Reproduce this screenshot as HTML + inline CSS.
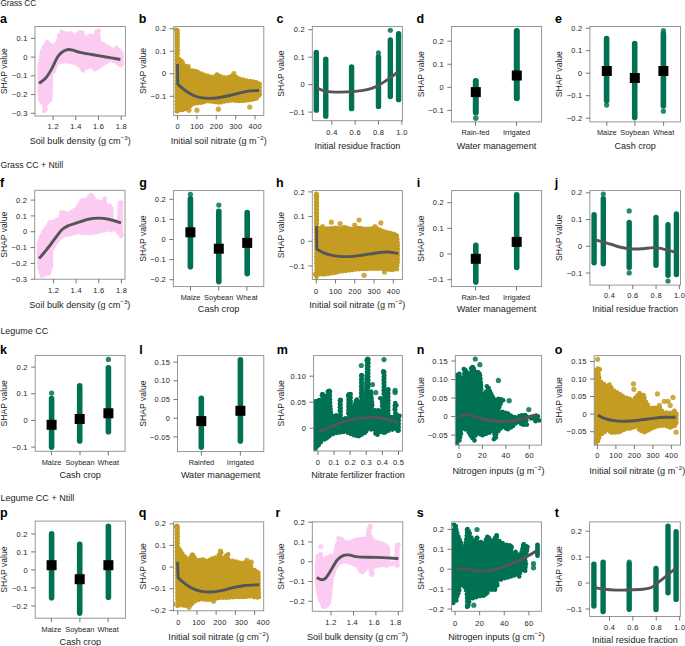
<!DOCTYPE html>
<html><head><meta charset="utf-8"><style>
html,body{margin:0;padding:0;background:#fff;}
svg{display:block;font-family:"Liberation Sans",sans-serif;}
</style></head><body>
<svg width="685" height="646" viewBox="0 0 685 646">
<defs><filter id="erode" x="-5%" y="-5%" width="110%" height="110%"><feMorphology operator="erode" radius="1.2"/></filter><clipPath id="cl0"><rect x="35.2" y="26.7" width="90" height="89.1"/></clipPath><clipPath id="cl1"><rect x="174" y="26.7" width="89.6" height="88.5"/></clipPath><clipPath id="cl2"><rect x="34.9" y="190.5" width="89.9" height="88.5"/></clipPath><clipPath id="cl3"><rect x="312.5" y="190.8" width="89.7" height="88.5"/></clipPath><clipPath id="cl4"><rect x="313.8" y="355.8" width="88.4" height="95"/></clipPath><clipPath id="cl5"><rect x="455.5" y="355.8" width="85.9" height="89.1"/></clipPath><clipPath id="cl6"><rect x="594.4" y="355.8" width="85.9" height="89.1"/></clipPath><clipPath id="cl7"><rect x="173.8" y="522.1" width="89.7" height="88.5"/></clipPath><clipPath id="cl8"><rect x="312.5" y="522.1" width="90.1" height="89"/></clipPath><clipPath id="cl9"><rect x="451.8" y="522.1" width="89.4" height="89"/></clipPath></defs>
<rect width="685" height="646" fill="#fff"/>
<text x="0.4" y="6.4" font-size="8.7" text-anchor="start" font-weight="normal" fill="#1c1c1c" textLength="35.6" lengthAdjust="spacingAndGlyphs">Grass CC</text>
<text x="0.4" y="167.8" font-size="8.7" text-anchor="start" font-weight="normal" fill="#1c1c1c" textLength="62.7" lengthAdjust="spacingAndGlyphs">Grass CC + Ntill</text>
<text x="0.4" y="333.9" font-size="8.7" text-anchor="start" font-weight="normal" fill="#1c1c1c" textLength="47.8" lengthAdjust="spacingAndGlyphs">Legume CC</text>
<text x="0.4" y="500.8" font-size="8.7" text-anchor="start" font-weight="normal" fill="#1c1c1c" textLength="74" lengthAdjust="spacingAndGlyphs">Legume CC + Ntill</text>
<g clip-path="url(#cl0)">
<path d="M37.17,66.74 L39.76,50.91 L43.36,43.71 L48.39,40.11 L52.71,43.71 L55.59,40.83 L57.75,33.64 L62.07,29.32 L66.39,31.48 L70.71,30.76 L75.02,32.92 L78.62,30.04 L83.66,30.76 L85.82,35.08 L89.42,33.64 L94.46,32.92 L97.34,28.6 L100.22,33.64 L101.66,40.83 L104.53,42.27 L107.41,44.43 L109.57,45.15 L112.45,47.31 L114.61,48.75 L117.49,45.87 L121.81,49.47 L123.97,53.79 L123.97,65.31 L121.81,67.46 L118.93,66.74 L114.61,63.87 L110.29,62.43 L103.09,66.74 L97.34,71.06 L94.46,71.78 L90.14,68.9 L84.38,71.06 L81.5,72.5 L78.62,68.18 L74.31,65.31 L68.55,63.87 L62.79,63.87 L58.47,65.31 L55.59,72.5 L53.43,75.38 L52.71,99.85 L50.55,102.73 L47.67,105.61 L46.24,112.81 L44.08,112.81 L41.92,105.61 L38.32,101.29 L37.17,92.66Z" fill="#fccbf2" filter="url(#erode)"/>
<g fill="#fccbf2"><circle cx="39.44" cy="67.12" r="2.3"/><circle cx="39.99" cy="63.76" r="2.3"/><circle cx="40.53" cy="60.41" r="2.3"/><circle cx="41.08" cy="57.05" r="2.3"/><circle cx="41.63" cy="53.69" r="2.3"/><circle cx="42.24" cy="51.08" r="2.3"/><circle cx="43.76" cy="48.04" r="2.3"/><circle cx="45.28" cy="45" r="2.3"/><circle cx="47.22" cy="43.78" r="2.3"/><circle cx="47.17" cy="42.08" r="2.3"/><circle cx="49.78" cy="44.26" r="2.3"/><circle cx="55.4" cy="44.28" r="2.3"/><circle cx="58.03" cy="40.71" r="2.3"/><circle cx="59.01" cy="37.45" r="2.3"/><circle cx="59.46" cy="35.19" r="2.3"/><circle cx="61.86" cy="32.78" r="2.3"/><circle cx="61.76" cy="31.73" r="2.3"/><circle cx="64.8" cy="33.26" r="2.3"/><circle cx="69.5" cy="33.29" r="2.3"/><circle cx="71.28" cy="33.62" r="2.3"/><circle cx="76.75" cy="34.48" r="2.3"/><circle cx="79.4" cy="32.36" r="2.3"/><circle cx="80.83" cy="32.68" r="2.3"/><circle cx="81.99" cy="32.57" r="2.3"/><circle cx="83.51" cy="35.61" r="2.3"/><circle cx="89.31" cy="36.16" r="2.3"/><circle cx="92.09" cy="35.58" r="2.3"/><circle cx="96.75" cy="33.63" r="2.3"/><circle cx="98.63" cy="30.8" r="2.3"/><circle cx="96.47" cy="31.73" r="2.3"/><circle cx="98.16" cy="34.68" r="2.3"/><circle cx="98.6" cy="37.31" r="2.3"/><circle cx="99.27" cy="40.64" r="2.3"/><circle cx="103.08" cy="44.12" r="2.3"/><circle cx="105.49" cy="45.87" r="2.3"/><circle cx="108.55" cy="47.26" r="2.3"/><circle cx="111.39" cy="49.37" r="2.3"/><circle cx="116.98" cy="49.63" r="2.3"/><circle cx="116.31" cy="47.89" r="2.3"/><circle cx="118.93" cy="50.06" r="2.3"/><circle cx="120.45" cy="51.9" r="2.3"/><circle cx="121.67" cy="53.93" r="2.3"/><circle cx="121.67" cy="57.33" r="2.3"/><circle cx="121.67" cy="60.73" r="2.3"/><circle cx="121.67" cy="64.13" r="2.3"/><circle cx="120.77" cy="65.25" r="2.3"/><circle cx="119.87" cy="64.61" r="2.3"/><circle cx="117.71" cy="63.17" r="2.3"/><circle cx="114.19" cy="61.3" r="2.3"/><circle cx="109.06" cy="60.48" r="2.3"/><circle cx="106.14" cy="62.23" r="2.3"/><circle cx="103.23" cy="63.98" r="2.3"/><circle cx="100.22" cy="66.02" r="2.3"/><circle cx="97.5" cy="68.06" r="2.3"/><circle cx="95.36" cy="69.19" r="2.3"/><circle cx="94.15" cy="68.82" r="2.3"/><circle cx="89.23" cy="66.79" r="2.3"/><circle cx="86.05" cy="67.98" r="2.3"/><circle cx="82.67" cy="69.35" r="2.3"/><circle cx="82.89" cy="70.44" r="2.3"/><circle cx="81.01" cy="67.61" r="2.3"/><circle cx="77.78" cy="64.86" r="2.3"/><circle cx="74.12" cy="62.89" r="2.3"/><circle cx="70.83" cy="62.06" r="2.3"/><circle cx="66.92" cy="61.57" r="2.3"/><circle cx="63.52" cy="61.57" r="2.3"/><circle cx="59.53" cy="62.53" r="2.3"/><circle cx="55.77" cy="65.86" r="2.3"/><circle cx="54.51" cy="69.02" r="2.3"/><circle cx="53.41" cy="71.57" r="2.3"/><circle cx="51.12" cy="75.68" r="2.3"/><circle cx="51.02" cy="79.08" r="2.3"/><circle cx="50.92" cy="82.48" r="2.3"/><circle cx="50.82" cy="85.87" r="2.3"/><circle cx="50.72" cy="89.27" r="2.3"/><circle cx="50.62" cy="92.67" r="2.3"/><circle cx="50.52" cy="96.07" r="2.3"/><circle cx="50.42" cy="99.47" r="2.3"/><circle cx="49.02" cy="100.94" r="2.3"/><circle cx="46.89" cy="103.15" r="2.3"/><circle cx="44.99" cy="107.33" r="2.3"/><circle cx="44.32" cy="110.66" r="2.3"/><circle cx="44.56" cy="110.51" r="2.3"/><circle cx="45.44" cy="109.36" r="2.3"/><circle cx="44.46" cy="106.1" r="2.3"/><circle cx="42.28" cy="102.45" r="2.3"/><circle cx="40.1" cy="99.84" r="2.3"/><circle cx="40.15" cy="97.64" r="2.3"/><circle cx="39.7" cy="94.27" r="2.3"/><circle cx="39.47" cy="91.19" r="2.3"/><circle cx="39.47" cy="87.79" r="2.3"/><circle cx="39.47" cy="84.39" r="2.3"/><circle cx="39.47" cy="80.99" r="2.3"/><circle cx="39.47" cy="77.59" r="2.3"/><circle cx="39.47" cy="74.19" r="2.3"/><circle cx="39.47" cy="70.79" r="2.3"/><circle cx="39.47" cy="67.39" r="2.3"/></g>
</g>
<path d="M39.04,83.3 C40.12,82.46 43.48,80.54 45.52,78.26 C47.56,75.98 49.23,73.22 51.27,69.62 C53.31,66.02 55.83,59.67 57.75,56.67 C59.67,53.67 60.99,52.83 62.79,51.63 C64.59,50.43 66.63,49.64 68.55,49.47 C70.47,49.3 72.39,50.14 74.31,50.62 C76.22,51.1 77.18,51.7 80.06,52.35 C82.94,53 87.26,53.74 91.58,54.51 C95.9,55.28 101.18,56.12 105.97,56.96 C110.77,57.8 117.97,59.12 120.37,59.55" fill="none" stroke="#545557" stroke-width="2.9" stroke-linecap="butt" stroke-linejoin="miter"/>
<rect x="35" y="26.5" width="90.4" height="89.5" fill="none" stroke="#8c8c8c" stroke-width="0.9"/>
<line x1="30.9" y1="38.4" x2="35" y2="38.4" stroke="#555" stroke-width="0.8"/>
<text x="27.6" y="41" font-size="7.5" text-anchor="end" font-weight="normal" fill="#1c1c1c" letter-spacing="0.25">0.1</text>
<line x1="30.9" y1="57.12" x2="35" y2="57.12" stroke="#555" stroke-width="0.8"/>
<text x="27.6" y="59.73" font-size="7.5" text-anchor="end" font-weight="normal" fill="#1c1c1c" letter-spacing="0.25">0</text>
<line x1="30.9" y1="75.85" x2="35" y2="75.85" stroke="#555" stroke-width="0.8"/>
<text x="27.6" y="78.45" font-size="7.5" text-anchor="end" font-weight="normal" fill="#1c1c1c" letter-spacing="0.25">−0.1</text>
<line x1="30.9" y1="94.58" x2="35" y2="94.58" stroke="#555" stroke-width="0.8"/>
<text x="27.6" y="97.18" font-size="7.5" text-anchor="end" font-weight="normal" fill="#1c1c1c" letter-spacing="0.25">−0.2</text>
<line x1="30.9" y1="113.3" x2="35" y2="113.3" stroke="#555" stroke-width="0.8"/>
<text x="27.6" y="115.9" font-size="7.5" text-anchor="end" font-weight="normal" fill="#1c1c1c" letter-spacing="0.25">−0.3</text>
<line x1="53.1" y1="116" x2="53.1" y2="120" stroke="#555" stroke-width="0.8"/>
<text x="53.25" y="129.3" font-size="7.5" text-anchor="middle" font-weight="normal" fill="#1c1c1c" letter-spacing="0.3">1.2</text>
<line x1="75.8" y1="116" x2="75.8" y2="120" stroke="#555" stroke-width="0.8"/>
<text x="75.95" y="129.3" font-size="7.5" text-anchor="middle" font-weight="normal" fill="#1c1c1c" letter-spacing="0.3">1.4</text>
<line x1="98.5" y1="116" x2="98.5" y2="120" stroke="#555" stroke-width="0.8"/>
<text x="98.65" y="129.3" font-size="7.5" text-anchor="middle" font-weight="normal" fill="#1c1c1c" letter-spacing="0.3">1.6</text>
<line x1="121.2" y1="116" x2="121.2" y2="120" stroke="#555" stroke-width="0.8"/>
<text x="121.35" y="129.3" font-size="7.5" text-anchor="middle" font-weight="normal" fill="#1c1c1c" letter-spacing="0.3">1.8</text>
<text x="80.2" y="144.4" font-size="9.1" text-anchor="middle" font-weight="normal" fill="#1c1c1c">Soil bulk density (g cm<tspan dy="-4.2" font-size="6.2">−3</tspan><tspan dy="4.2">)</tspan></text>
<text x="6.7" y="71.25" font-size="8.6" text-anchor="middle" fill="#1c1c1c" transform="rotate(-90 6.7 71.25)">SHAP value</text>
<text x="0" y="22.7" font-size="12.5" text-anchor="start" font-weight="bold" fill="#000">a</text>
<g clip-path="url(#cl1)">
<path d="M174.59,111.37 L174.5,31 L174.99,29 L177.2,27.81 L179.4,29 L180,31 L180,56.96 L180.64,57.39 L183.52,59.55 L185.67,63.15 L188.55,66.02 L192.15,68.18 L196.47,68.9 L200.79,71.06 L206.55,73.22 L212.31,74.66 L218.06,72.5 L222.38,74.66 L226.7,75.38 L232.46,73.22 L235.34,73.94 L241.09,76.82 L246.85,78.26 L252.61,78.98 L258.37,80.42 L261.97,84.02 L261.97,95.53 L258.37,99.85 L252.61,102.01 L246.85,102.73 L241.09,103.45 L232.46,102.73 L226.7,103.45 L219.5,104.89 L213.74,104.17 L207.99,103.45 L202.23,104.89 L196.47,105.61 L193.59,106.33 L189.27,109.93 L183.52,112.09 L177.76,112.81Z" fill="#c49c22" filter="url(#erode)"/>
<g fill="#c49c22"><circle cx="176.89" cy="111.37" r="2.3"/><circle cx="176.89" cy="107.97" r="2.3"/><circle cx="176.88" cy="104.57" r="2.3"/><circle cx="176.88" cy="101.17" r="2.3"/><circle cx="176.88" cy="97.77" r="2.3"/><circle cx="176.87" cy="94.37" r="2.3"/><circle cx="176.87" cy="90.97" r="2.3"/><circle cx="176.87" cy="87.57" r="2.3"/><circle cx="176.86" cy="84.17" r="2.3"/><circle cx="176.86" cy="80.77" r="2.3"/><circle cx="176.85" cy="77.37" r="2.3"/><circle cx="176.85" cy="73.97" r="2.3"/><circle cx="176.85" cy="70.57" r="2.3"/><circle cx="176.84" cy="67.17" r="2.3"/><circle cx="176.84" cy="63.77" r="2.3"/><circle cx="176.84" cy="60.37" r="2.3"/><circle cx="176.83" cy="56.97" r="2.3"/><circle cx="176.83" cy="53.57" r="2.3"/><circle cx="176.83" cy="50.17" r="2.3"/><circle cx="176.82" cy="46.77" r="2.3"/><circle cx="176.82" cy="43.37" r="2.3"/><circle cx="176.81" cy="39.97" r="2.3"/><circle cx="176.81" cy="36.57" r="2.3"/><circle cx="176.81" cy="33.17" r="2.3"/><circle cx="177.03" cy="30.35" r="2.3"/><circle cx="176.16" cy="29.86" r="2.3"/><circle cx="177.48" cy="30.59" r="2.3"/><circle cx="177.7" cy="33.28" r="2.3"/><circle cx="177.7" cy="36.68" r="2.3"/><circle cx="177.7" cy="40.08" r="2.3"/><circle cx="177.7" cy="43.48" r="2.3"/><circle cx="177.7" cy="46.88" r="2.3"/><circle cx="177.7" cy="50.28" r="2.3"/><circle cx="177.7" cy="53.68" r="2.3"/><circle cx="178.81" cy="58.92" r="2.3"/><circle cx="181.46" cy="60.88" r="2.3"/><circle cx="182.86" cy="62.92" r="2.3"/><circle cx="185.29" cy="66.02" r="2.3"/><circle cx="188.3" cy="68.56" r="2.3"/><circle cx="192.06" cy="70.5" r="2.3"/><circle cx="195.41" cy="71.06" r="2.3"/><circle cx="197.87" cy="72.17" r="2.3"/><circle cx="201.18" cy="73.67" r="2.3"/><circle cx="204.37" cy="74.86" r="2.3"/><circle cx="207.87" cy="75.92" r="2.3"/><circle cx="211.16" cy="76.75" r="2.3"/><circle cx="215.73" cy="75.83" r="2.3"/><circle cx="217.08" cy="74.58" r="2.3"/><circle cx="220.12" cy="76.1" r="2.3"/><circle cx="224" cy="77.26" r="2.3"/><circle cx="228.48" cy="77.17" r="2.3"/><circle cx="231.67" cy="75.97" r="2.3"/><circle cx="233.54" cy="75.86" r="2.3"/><circle cx="236.21" cy="76.95" r="2.3"/><circle cx="239.25" cy="78.47" r="2.3"/><circle cx="242.95" cy="79.66" r="2.3"/><circle cx="246.25" cy="80.48" r="2.3"/><circle cx="249.89" cy="80.96" r="2.3"/><circle cx="252.97" cy="81.44" r="2.3"/><circle cx="256.27" cy="82.27" r="2.3"/><circle cx="258.03" cy="83.33" r="2.3"/><circle cx="259.67" cy="84.14" r="2.3"/><circle cx="259.67" cy="87.54" r="2.3"/><circle cx="259.67" cy="90.94" r="2.3"/><circle cx="259.67" cy="94.34" r="2.3"/><circle cx="258.78" cy="95.76" r="2.3"/><circle cx="256.61" cy="98.37" r="2.3"/><circle cx="254.39" cy="98.89" r="2.3"/><circle cx="251.69" cy="99.81" r="2.3"/><circle cx="248.32" cy="100.23" r="2.3"/><circle cx="244.94" cy="100.65" r="2.3"/><circle cx="241.57" cy="101.07" r="2.3"/><circle cx="238.66" cy="100.94" r="2.3"/><circle cx="235.27" cy="100.66" r="2.3"/><circle cx="231.41" cy="100.54" r="2.3"/><circle cx="228.04" cy="100.97" r="2.3"/><circle cx="224.52" cy="101.54" r="2.3"/><circle cx="221.18" cy="102.21" r="2.3"/><circle cx="218.57" cy="102.46" r="2.3"/><circle cx="215.2" cy="102.03" r="2.3"/><circle cx="211.82" cy="101.61" r="2.3"/><circle cx="208.45" cy="101.19" r="2.3"/><circle cx="204.31" cy="102" r="2.3"/><circle cx="201.26" cy="102.69" r="2.3"/><circle cx="197.89" cy="103.12" r="2.3"/><circle cx="194.28" cy="103.79" r="2.3"/><circle cx="190.5" cy="105.92" r="2.3"/><circle cx="187.88" cy="108.09" r="2.3"/><circle cx="185.38" cy="108.93" r="2.3"/><circle cx="182.69" cy="109.87" r="2.3"/><circle cx="179.32" cy="110.29" r="2.3"/><circle cx="177.31" cy="110.08" r="2.3"/></g>
<circle cx="218.35" cy="109.21" r="2.6" fill="#c49c22" fill-opacity="0.85"/>
<circle cx="196.9" cy="110.22" r="2.6" fill="#c49c22" fill-opacity="0.85"/>
<circle cx="188.99" cy="110.22" r="2.6" fill="#c49c22" fill-opacity="0.85"/>
<circle cx="249.73" cy="107.05" r="2.6" fill="#c49c22" fill-opacity="0.85"/>
<circle cx="233.9" cy="73.65" r="2.6" fill="#c49c22" fill-opacity="0.85"/>
<circle cx="188.12" cy="66.46" r="2.6" fill="#c49c22" fill-opacity="0.85"/>
</g>
<path d="M177.47,63.87 L177.76,84.02 C178.24,84.5 179.2,85.7 180.64,86.9 C182.08,88.1 184.24,89.78 186.39,91.22 C188.55,92.66 191.19,94.45 193.59,95.53 C195.99,96.61 198.15,97.21 200.79,97.69 C203.43,98.17 206.55,98.41 209.43,98.41 C212.31,98.41 214.7,98.17 218.06,97.69 C221.42,97.21 225.74,96.37 229.58,95.53 C233.42,94.69 237.74,93.42 241.09,92.66 C244.45,91.89 246.73,91.29 249.73,90.93 C252.73,90.57 257.53,90.57 259.09,90.5" fill="none" stroke="#545557" stroke-width="2.9" stroke-linecap="butt" stroke-linejoin="miter"/>
<rect x="173.8" y="26.5" width="90" height="88.9" fill="none" stroke="#8c8c8c" stroke-width="0.9"/>
<line x1="169.7" y1="28.7" x2="173.8" y2="28.7" stroke="#555" stroke-width="0.8"/>
<text x="166.4" y="31.3" font-size="7.5" text-anchor="end" font-weight="normal" fill="#1c1c1c" letter-spacing="0.25">0.2</text>
<line x1="169.7" y1="51.23" x2="173.8" y2="51.23" stroke="#555" stroke-width="0.8"/>
<text x="166.4" y="53.83" font-size="7.5" text-anchor="end" font-weight="normal" fill="#1c1c1c" letter-spacing="0.25">0.1</text>
<line x1="169.7" y1="73.77" x2="173.8" y2="73.77" stroke="#555" stroke-width="0.8"/>
<text x="166.4" y="76.37" font-size="7.5" text-anchor="end" font-weight="normal" fill="#1c1c1c" letter-spacing="0.25">0</text>
<line x1="169.7" y1="96.3" x2="173.8" y2="96.3" stroke="#555" stroke-width="0.8"/>
<text x="166.4" y="98.9" font-size="7.5" text-anchor="end" font-weight="normal" fill="#1c1c1c" letter-spacing="0.25">−0.1</text>
<line x1="177.5" y1="115.4" x2="177.5" y2="119.4" stroke="#555" stroke-width="0.8"/>
<text x="177.65" y="129.3" font-size="7.5" text-anchor="middle" font-weight="normal" fill="#1c1c1c" letter-spacing="0.3">0</text>
<line x1="196.9" y1="115.4" x2="196.9" y2="119.4" stroke="#555" stroke-width="0.8"/>
<text x="197.05" y="129.3" font-size="7.5" text-anchor="middle" font-weight="normal" fill="#1c1c1c" letter-spacing="0.3">100</text>
<line x1="216.3" y1="115.4" x2="216.3" y2="119.4" stroke="#555" stroke-width="0.8"/>
<text x="216.45" y="129.3" font-size="7.5" text-anchor="middle" font-weight="normal" fill="#1c1c1c" letter-spacing="0.3">200</text>
<line x1="235.7" y1="115.4" x2="235.7" y2="119.4" stroke="#555" stroke-width="0.8"/>
<text x="235.85" y="129.3" font-size="7.5" text-anchor="middle" font-weight="normal" fill="#1c1c1c" letter-spacing="0.3">300</text>
<line x1="255.1" y1="115.4" x2="255.1" y2="119.4" stroke="#555" stroke-width="0.8"/>
<text x="255.25" y="129.3" font-size="7.5" text-anchor="middle" font-weight="normal" fill="#1c1c1c" letter-spacing="0.3">400</text>
<text x="218.8" y="144.4" font-size="9.1" text-anchor="middle" font-weight="normal" fill="#1c1c1c">Initial soil nitrate (g m<tspan dy="-4.2" font-size="6.2">−2</tspan><tspan dy="4.2">)</tspan></text>
<text x="145.8" y="70.95" font-size="8.6" text-anchor="middle" fill="#1c1c1c" transform="rotate(-90 145.8 70.95)">SHAP value</text>
<text x="138.8" y="22.7" font-size="12.5" text-anchor="start" font-weight="bold" fill="#000">b</text>
<line x1="316.31" y1="52.47" x2="316.31" y2="110.14" stroke="#017153" stroke-width="5.4" stroke-linecap="round"/>
<line x1="325.77" y1="59.23" x2="325.77" y2="116.14" stroke="#017153" stroke-width="5.4" stroke-linecap="round"/>
<line x1="351.59" y1="67.04" x2="351.59" y2="108.64" stroke="#017153" stroke-width="5.4" stroke-linecap="round"/>
<line x1="378.47" y1="56.98" x2="378.47" y2="106.38" stroke="#017153" stroke-width="5.4" stroke-linecap="round"/>
<line x1="390.33" y1="40.01" x2="390.33" y2="96.62" stroke="#017153" stroke-width="5.4" stroke-linecap="round"/>
<line x1="398.59" y1="33.71" x2="398.59" y2="99.63" stroke="#017153" stroke-width="5.4" stroke-linecap="round"/>
<circle cx="390.33" cy="30.26" r="2.6" fill="#017153" fill-opacity="0.85"/>
<circle cx="378.47" cy="52.78" r="2.6" fill="#017153" fill-opacity="0.85"/>
<path d="M316.76,87.76 C318.13,88.31 321.14,90.34 325.02,91.07 C328.89,91.79 335.03,92.07 340.03,92.12 C345.04,92.17 350.54,91.79 355.05,91.37 C359.55,90.94 363.55,90.37 367.06,89.56 C370.56,88.76 373.06,87.94 376.07,86.56 C379.07,85.19 382.32,83.06 385.08,81.31 C387.83,79.55 390.38,77.68 392.58,76.05 C394.78,74.42 397.34,72.3 398.29,71.55" fill="none" stroke="#545557" stroke-width="2.9" stroke-linecap="butt" stroke-linejoin="miter"/>
<rect x="312.3" y="26.5" width="90.1" height="94.2" fill="none" stroke="#8c8c8c" stroke-width="0.9"/>
<line x1="308.2" y1="29.75" x2="312.3" y2="29.75" stroke="#555" stroke-width="0.8"/>
<text x="304.9" y="32.35" font-size="7.5" text-anchor="end" font-weight="normal" fill="#1c1c1c" letter-spacing="0.25">0.2</text>
<line x1="308.2" y1="57.2" x2="312.3" y2="57.2" stroke="#555" stroke-width="0.8"/>
<text x="304.9" y="59.8" font-size="7.5" text-anchor="end" font-weight="normal" fill="#1c1c1c" letter-spacing="0.25">0.1</text>
<line x1="308.2" y1="84.65" x2="312.3" y2="84.65" stroke="#555" stroke-width="0.8"/>
<text x="304.9" y="87.25" font-size="7.5" text-anchor="end" font-weight="normal" fill="#1c1c1c" letter-spacing="0.25">0</text>
<line x1="308.2" y1="112.1" x2="312.3" y2="112.1" stroke="#555" stroke-width="0.8"/>
<text x="304.9" y="114.7" font-size="7.5" text-anchor="end" font-weight="normal" fill="#1c1c1c" letter-spacing="0.25">−0.1</text>
<line x1="331.8" y1="120.7" x2="331.8" y2="124.7" stroke="#555" stroke-width="0.8"/>
<text x="331.95" y="135" font-size="7.5" text-anchor="middle" font-weight="normal" fill="#1c1c1c" letter-spacing="0.3">0.4</text>
<line x1="355.13" y1="120.7" x2="355.13" y2="124.7" stroke="#555" stroke-width="0.8"/>
<text x="355.28" y="135" font-size="7.5" text-anchor="middle" font-weight="normal" fill="#1c1c1c" letter-spacing="0.3">0.6</text>
<line x1="378.47" y1="120.7" x2="378.47" y2="124.7" stroke="#555" stroke-width="0.8"/>
<text x="378.62" y="135" font-size="7.5" text-anchor="middle" font-weight="normal" fill="#1c1c1c" letter-spacing="0.3">0.8</text>
<line x1="401.8" y1="120.7" x2="401.8" y2="124.7" stroke="#555" stroke-width="0.8"/>
<text x="401.95" y="135" font-size="7.5" text-anchor="middle" font-weight="normal" fill="#1c1c1c" letter-spacing="0.3">1.0</text>
<text x="357.35" y="148.8" font-size="9.1" text-anchor="middle" font-weight="normal" fill="#1c1c1c">Initial residue fraction</text>
<text x="283.8" y="73.6" font-size="8.6" text-anchor="middle" fill="#1c1c1c" transform="rotate(-90 283.8 73.6)">SHAP value</text>
<text x="276.4" y="22.7" font-size="12.5" text-anchor="start" font-weight="bold" fill="#000">c</text>
<line x1="475.8" y1="80.9" x2="475.8" y2="112.5" stroke="#017153" stroke-width="6" stroke-linecap="round"/>
<circle cx="475.8" cy="118.1" r="2.8" fill="#017153" fill-opacity="0.85"/>
<line x1="516.8" y1="31.1" x2="516.8" y2="98.2" stroke="#017153" stroke-width="6" stroke-linecap="round"/>
<rect x="470.8" y="87.1" width="10" height="10" fill="#000"/>
<rect x="511.8" y="70.5" width="10" height="10" fill="#000"/>
<rect x="451.4" y="26.5" width="90.2" height="95.4" fill="none" stroke="#8c8c8c" stroke-width="0.9"/>
<line x1="447.3" y1="41.2" x2="451.4" y2="41.2" stroke="#555" stroke-width="0.8"/>
<text x="444" y="43.8" font-size="7.5" text-anchor="end" font-weight="normal" fill="#1c1c1c" letter-spacing="0.25">0.2</text>
<line x1="447.3" y1="64.27" x2="451.4" y2="64.27" stroke="#555" stroke-width="0.8"/>
<text x="444" y="66.87" font-size="7.5" text-anchor="end" font-weight="normal" fill="#1c1c1c" letter-spacing="0.25">0.1</text>
<line x1="447.3" y1="87.33" x2="451.4" y2="87.33" stroke="#555" stroke-width="0.8"/>
<text x="444" y="89.93" font-size="7.5" text-anchor="end" font-weight="normal" fill="#1c1c1c" letter-spacing="0.25">0</text>
<line x1="447.3" y1="110.4" x2="451.4" y2="110.4" stroke="#555" stroke-width="0.8"/>
<text x="444" y="113" font-size="7.5" text-anchor="end" font-weight="normal" fill="#1c1c1c" letter-spacing="0.25">−0.1</text>
<line x1="475.5" y1="121.9" x2="475.5" y2="125.9" stroke="#555" stroke-width="0.8"/>
<text x="475.5" y="135" font-size="7.4" text-anchor="middle" font-weight="normal" fill="#1c1c1c">Rain-fed</text>
<line x1="516.5" y1="121.9" x2="516.5" y2="125.9" stroke="#555" stroke-width="0.8"/>
<text x="516.5" y="135" font-size="7.4" text-anchor="middle" font-weight="normal" fill="#1c1c1c">Irrigated</text>
<text x="496.5" y="148.8" font-size="9.1" text-anchor="middle" font-weight="normal" fill="#1c1c1c">Water management</text>
<text x="423.6" y="74.2" font-size="8.6" text-anchor="middle" fill="#1c1c1c" transform="rotate(-90 423.6 74.2)">SHAP value</text>
<text x="416.4" y="22.7" font-size="12.5" text-anchor="start" font-weight="bold" fill="#000">d</text>
<line x1="606.6" y1="38.5" x2="606.6" y2="100.7" stroke="#017153" stroke-width="5.6" stroke-linecap="round"/>
<circle cx="606.6" cy="105.1" r="2.6" fill="#017153" fill-opacity="0.85"/>
<line x1="634.7" y1="43.6" x2="634.7" y2="117.6" stroke="#017153" stroke-width="5.6" stroke-linecap="round"/>
<line x1="663.4" y1="33.8" x2="663.4" y2="106" stroke="#017153" stroke-width="5.6" stroke-linecap="round"/>
<circle cx="663.4" cy="111.2" r="2.6" fill="#017153" fill-opacity="0.85"/>
<circle cx="663.4" cy="30.5" r="2.6" fill="#017153" fill-opacity="0.85"/>
<rect x="601.8" y="66" width="10" height="10" fill="#000"/>
<rect x="629.8" y="73" width="10" height="10" fill="#000"/>
<rect x="658.4" y="66" width="10" height="10" fill="#000"/>
<rect x="589.9" y="26.5" width="90.6" height="95.4" fill="none" stroke="#8c8c8c" stroke-width="0.9"/>
<line x1="585.8" y1="28.2" x2="589.9" y2="28.2" stroke="#555" stroke-width="0.8"/>
<text x="582.5" y="30.8" font-size="7.5" text-anchor="end" font-weight="normal" fill="#1c1c1c" letter-spacing="0.25">0.2</text>
<line x1="585.8" y1="50.7" x2="589.9" y2="50.7" stroke="#555" stroke-width="0.8"/>
<text x="582.5" y="53.3" font-size="7.5" text-anchor="end" font-weight="normal" fill="#1c1c1c" letter-spacing="0.25">0.1</text>
<line x1="585.8" y1="73.2" x2="589.9" y2="73.2" stroke="#555" stroke-width="0.8"/>
<text x="582.5" y="75.8" font-size="7.5" text-anchor="end" font-weight="normal" fill="#1c1c1c" letter-spacing="0.25">0</text>
<line x1="585.8" y1="95.7" x2="589.9" y2="95.7" stroke="#555" stroke-width="0.8"/>
<text x="582.5" y="98.3" font-size="7.5" text-anchor="end" font-weight="normal" fill="#1c1c1c" letter-spacing="0.25">−0.1</text>
<line x1="585.8" y1="118.2" x2="589.9" y2="118.2" stroke="#555" stroke-width="0.8"/>
<text x="582.5" y="120.8" font-size="7.5" text-anchor="end" font-weight="normal" fill="#1c1c1c" letter-spacing="0.25">−0.2</text>
<line x1="606.8" y1="121.9" x2="606.8" y2="125.9" stroke="#555" stroke-width="0.8"/>
<text x="606.8" y="135" font-size="7.4" text-anchor="middle" font-weight="normal" fill="#1c1c1c">Maize</text>
<line x1="634.9" y1="121.9" x2="634.9" y2="125.9" stroke="#555" stroke-width="0.8"/>
<text x="634.9" y="135" font-size="7.4" text-anchor="middle" font-weight="normal" fill="#1c1c1c">Soybean</text>
<line x1="663.6" y1="121.9" x2="663.6" y2="125.9" stroke="#555" stroke-width="0.8"/>
<text x="663.6" y="135" font-size="7.4" text-anchor="middle" font-weight="normal" fill="#1c1c1c">Wheat</text>
<text x="635.2" y="148.8" font-size="9.1" text-anchor="middle" font-weight="normal" fill="#1c1c1c">Cash crop</text>
<text x="561.8" y="74.2" font-size="8.6" text-anchor="middle" fill="#1c1c1c" transform="rotate(-90 561.8 74.2)">SHAP value</text>
<text x="554.9" y="22.7" font-size="12.5" text-anchor="start" font-weight="bold" fill="#000">e</text>
<g clip-path="url(#cl2)">
<path d="M36.64,243.3 L38.82,236.02 L41.73,230.2 L46.1,224.38 L47.55,220.74 L49.73,220.01 L53.37,219.29 L57.74,217.1 L59.92,210.56 L63.56,209.83 L67.92,211.28 L71.56,209.1 L75.2,206.92 L78.11,201.82 L81.02,198.19 L85.39,197.46 L88.3,193.82 L91.21,192.37 L94.12,194.55 L97.03,198.91 L101.39,199.64 L102.85,197.46 L105.76,199.64 L107.21,202.55 L111.58,204.01 L113.76,208.37 L113.76,221.47 L116.67,221.47 L117.4,202.55 L120.31,200.37 L123.22,203.28 L123.22,236.02 L120.31,236.75 L117.4,234.57 L114.49,231.66 L111.58,232.38 L108.67,231.66 L102.85,233.11 L97.03,234.57 L91.21,235.29 L83.93,235.29 L78.11,234.57 L72.29,236.02 L65.01,237.48 L60.65,240.39 L56.28,246.21 L53.37,252.03 L53.37,266.58 L50.46,275.31 L44.64,276.77 L40.28,277.49 L37.37,269.49 L36.64,257.85Z" fill="#fccbf2" filter="url(#erode)"/>
<g fill="#fccbf2"><circle cx="38.84" cy="243.96" r="2.3"/><circle cx="39.82" cy="240.7" r="2.3"/><circle cx="40.79" cy="237.44" r="2.3"/><circle cx="42.04" cy="234.72" r="2.3"/><circle cx="43.56" cy="231.68" r="2.3"/><circle cx="45.31" cy="229.26" r="2.3"/><circle cx="47.35" cy="226.54" r="2.3"/><circle cx="49.13" cy="222.99" r="2.3"/><circle cx="50.08" cy="222.32" r="2.3"/><circle cx="53.13" cy="221.68" r="2.3"/><circle cx="56.81" cy="220.14" r="2.3"/><circle cx="60.3" cy="216.68" r="2.3"/><circle cx="61.38" cy="213.46" r="2.3"/><circle cx="61.46" cy="212.59" r="2.3"/><circle cx="63.59" cy="212.26" r="2.3"/><circle cx="66.81" cy="213.34" r="2.3"/><circle cx="71.68" cy="211.71" r="2.3"/><circle cx="74.59" cy="209.96" r="2.3"/><circle cx="77.85" cy="206.92" r="2.3"/><circle cx="79.53" cy="203.97" r="2.3"/><circle cx="81.31" cy="201.51" r="2.3"/><circle cx="82.37" cy="200.29" r="2.3"/><circle cx="85.73" cy="199.73" r="2.3"/><circle cx="89.28" cy="196.27" r="2.3"/><circle cx="91.21" cy="194.94" r="2.3"/><circle cx="91.63" cy="195.55" r="2.3"/><circle cx="93.32" cy="197.5" r="2.3"/><circle cx="96.81" cy="201.21" r="2.3"/><circle cx="100.16" cy="201.77" r="2.3"/><circle cx="104.71" cy="198.81" r="2.3"/><circle cx="104.12" cy="201.29" r="2.3"/><circle cx="105.08" cy="203.42" r="2.3"/><circle cx="109.54" cy="205.75" r="2.3"/><circle cx="110.43" cy="206.84" r="2.3"/><circle cx="111.46" cy="208.91" r="2.3"/><circle cx="111.46" cy="212.31" r="2.3"/><circle cx="111.46" cy="215.71" r="2.3"/><circle cx="111.46" cy="219.11" r="2.3"/><circle cx="114.81" cy="223.77" r="2.3"/><circle cx="119.03" cy="220.03" r="2.3"/><circle cx="119.16" cy="216.63" r="2.3"/><circle cx="119.29" cy="213.23" r="2.3"/><circle cx="119.42" cy="209.83" r="2.3"/><circle cx="119.55" cy="206.44" r="2.3"/><circle cx="119.68" cy="203.04" r="2.3"/><circle cx="121.18" cy="202.59" r="2.3"/><circle cx="120.64" cy="203.95" r="2.3"/><circle cx="120.92" cy="205.33" r="2.3"/><circle cx="120.92" cy="208.73" r="2.3"/><circle cx="120.92" cy="212.13" r="2.3"/><circle cx="120.92" cy="215.53" r="2.3"/><circle cx="120.92" cy="218.93" r="2.3"/><circle cx="120.92" cy="222.33" r="2.3"/><circle cx="120.92" cy="225.73" r="2.3"/><circle cx="120.92" cy="229.13" r="2.3"/><circle cx="120.92" cy="232.53" r="2.3"/><circle cx="120.92" cy="235.93" r="2.3"/><circle cx="121.45" cy="234.73" r="2.3"/><circle cx="118.98" cy="232.89" r="2.3"/><circle cx="116.57" cy="230.49" r="2.3"/><circle cx="111.26" cy="230.09" r="2.3"/><circle cx="107.96" cy="229.46" r="2.3"/><circle cx="104.67" cy="230.29" r="2.3"/><circle cx="101.37" cy="231.11" r="2.3"/><circle cx="98.07" cy="231.93" r="2.3"/><circle cx="95" cy="232.5" r="2.3"/><circle cx="91.63" cy="232.92" r="2.3"/><circle cx="88.52" cy="232.99" r="2.3"/><circle cx="85.12" cy="232.99" r="2.3"/><circle cx="82.02" cy="232.74" r="2.3"/><circle cx="78.65" cy="232.32" r="2.3"/><circle cx="74.5" cy="233.1" r="2.3"/><circle cx="71.3" cy="233.87" r="2.3"/><circle cx="67.97" cy="234.54" r="2.3"/><circle cx="64.64" cy="235.21" r="2.3"/><circle cx="60.97" cy="237.41" r="2.3"/><circle cx="57.92" cy="240.19" r="2.3"/><circle cx="55.88" cy="242.91" r="2.3"/><circle cx="53.78" cy="246.07" r="2.3"/><circle cx="52.26" cy="249.12" r="2.3"/><circle cx="51.07" cy="253.32" r="2.3"/><circle cx="51.07" cy="256.72" r="2.3"/><circle cx="51.07" cy="260.12" r="2.3"/><circle cx="51.07" cy="263.52" r="2.3"/><circle cx="51.08" cy="266.18" r="2.3"/><circle cx="50.01" cy="269.4" r="2.3"/><circle cx="48.93" cy="272.63" r="2.3"/><circle cx="48.61" cy="273.4" r="2.3"/><circle cx="45.31" cy="274.23" r="2.3"/><circle cx="42.15" cy="274.85" r="2.3"/><circle cx="42.06" cy="275.66" r="2.3"/><circle cx="40.9" cy="272.47" r="2.3"/><circle cx="39.73" cy="269.27" r="2.3"/><circle cx="39.49" cy="266.55" r="2.3"/><circle cx="39.27" cy="263.16" r="2.3"/><circle cx="39.06" cy="259.77" r="2.3"/><circle cx="38.94" cy="256.52" r="2.3"/><circle cx="38.94" cy="253.12" r="2.3"/><circle cx="38.94" cy="249.72" r="2.3"/><circle cx="38.94" cy="246.32" r="2.3"/></g>
</g>
<path d="M39.11,258.58 C40.03,257.48 42.75,254.33 44.64,252.03 C46.53,249.72 48.52,247.3 50.46,244.75 C52.4,242.21 54.34,239.3 56.28,236.75 C58.22,234.2 60.16,231.29 62.1,229.47 C64.04,227.65 65.5,226.93 67.92,225.83 C70.35,224.74 73.26,224.02 76.66,222.92 C80.05,221.83 84.66,220.09 88.3,219.29 C91.93,218.49 95.09,218.12 98.48,218.12 C101.88,218.12 104.91,218.49 108.67,219.29 C112.43,220.09 118.98,222.32 121.04,222.92" fill="none" stroke="#545557" stroke-width="2.9" stroke-linecap="butt" stroke-linejoin="miter"/>
<rect x="34.7" y="190.3" width="90.3" height="88.9" fill="none" stroke="#8c8c8c" stroke-width="0.9"/>
<line x1="30.6" y1="200.1" x2="34.7" y2="200.1" stroke="#555" stroke-width="0.8"/>
<text x="27.3" y="202.7" font-size="7.5" text-anchor="end" font-weight="normal" fill="#1c1c1c" letter-spacing="0.25">0.2</text>
<line x1="30.6" y1="215.92" x2="34.7" y2="215.92" stroke="#555" stroke-width="0.8"/>
<text x="27.3" y="218.52" font-size="7.5" text-anchor="end" font-weight="normal" fill="#1c1c1c" letter-spacing="0.25">0.1</text>
<line x1="30.6" y1="231.74" x2="34.7" y2="231.74" stroke="#555" stroke-width="0.8"/>
<text x="27.3" y="234.34" font-size="7.5" text-anchor="end" font-weight="normal" fill="#1c1c1c" letter-spacing="0.25">0</text>
<line x1="30.6" y1="247.56" x2="34.7" y2="247.56" stroke="#555" stroke-width="0.8"/>
<text x="27.3" y="250.16" font-size="7.5" text-anchor="end" font-weight="normal" fill="#1c1c1c" letter-spacing="0.25">−0.1</text>
<line x1="30.6" y1="263.38" x2="34.7" y2="263.38" stroke="#555" stroke-width="0.8"/>
<text x="27.3" y="265.98" font-size="7.5" text-anchor="end" font-weight="normal" fill="#1c1c1c" letter-spacing="0.25">−0.2</text>
<line x1="30.6" y1="279.2" x2="34.7" y2="279.2" stroke="#555" stroke-width="0.8"/>
<text x="27.3" y="281.8" font-size="7.5" text-anchor="end" font-weight="normal" fill="#1c1c1c" letter-spacing="0.25">−0.3</text>
<line x1="53.5" y1="279.2" x2="53.5" y2="283.2" stroke="#555" stroke-width="0.8"/>
<text x="53.65" y="293.3" font-size="7.5" text-anchor="middle" font-weight="normal" fill="#1c1c1c" letter-spacing="0.3">1.2</text>
<line x1="76.13" y1="279.2" x2="76.13" y2="283.2" stroke="#555" stroke-width="0.8"/>
<text x="76.28" y="293.3" font-size="7.5" text-anchor="middle" font-weight="normal" fill="#1c1c1c" letter-spacing="0.3">1.4</text>
<line x1="98.77" y1="279.2" x2="98.77" y2="283.2" stroke="#555" stroke-width="0.8"/>
<text x="98.92" y="293.3" font-size="7.5" text-anchor="middle" font-weight="normal" fill="#1c1c1c" letter-spacing="0.3">1.6</text>
<line x1="121.4" y1="279.2" x2="121.4" y2="283.2" stroke="#555" stroke-width="0.8"/>
<text x="121.55" y="293.3" font-size="7.5" text-anchor="middle" font-weight="normal" fill="#1c1c1c" letter-spacing="0.3">1.8</text>
<text x="79.85" y="308.3" font-size="9.1" text-anchor="middle" font-weight="normal" fill="#1c1c1c">Soil bulk density (g cm<tspan dy="-4.2" font-size="6.2">−3</tspan><tspan dy="4.2">)</tspan></text>
<text x="6.7" y="234.75" font-size="8.6" text-anchor="middle" fill="#1c1c1c" transform="rotate(-90 6.7 234.75)">SHAP value</text>
<text x="0" y="187.2" font-size="12.5" text-anchor="start" font-weight="bold" fill="#000">f</text>
<line x1="190.4" y1="198.7" x2="190.4" y2="266.7" stroke="#017153" stroke-width="5.6" stroke-linecap="round"/>
<circle cx="190.4" cy="194.4" r="2.6" fill="#017153" fill-opacity="0.85"/>
<line x1="218.8" y1="211.4" x2="218.8" y2="281.6" stroke="#017153" stroke-width="5.6" stroke-linecap="round"/>
<circle cx="218.8" cy="205.1" r="2.6" fill="#017153" fill-opacity="0.85"/>
<line x1="247.2" y1="212.5" x2="247.2" y2="273.6" stroke="#017153" stroke-width="5.6" stroke-linecap="round"/>
<rect x="185.4" y="227.3" width="10" height="10" fill="#000"/>
<rect x="213.8" y="243.7" width="10" height="10" fill="#000"/>
<rect x="242.2" y="237.9" width="10" height="10" fill="#000"/>
<rect x="173.4" y="190.6" width="90.4" height="96" fill="none" stroke="#8c8c8c" stroke-width="0.9"/>
<line x1="169.3" y1="199.3" x2="173.4" y2="199.3" stroke="#555" stroke-width="0.8"/>
<text x="166" y="201.9" font-size="7.5" text-anchor="end" font-weight="normal" fill="#1c1c1c" letter-spacing="0.25">0.2</text>
<line x1="169.3" y1="219.4" x2="173.4" y2="219.4" stroke="#555" stroke-width="0.8"/>
<text x="166" y="222" font-size="7.5" text-anchor="end" font-weight="normal" fill="#1c1c1c" letter-spacing="0.25">0.1</text>
<line x1="169.3" y1="239.5" x2="173.4" y2="239.5" stroke="#555" stroke-width="0.8"/>
<text x="166" y="242.1" font-size="7.5" text-anchor="end" font-weight="normal" fill="#1c1c1c" letter-spacing="0.25">0</text>
<line x1="169.3" y1="259.6" x2="173.4" y2="259.6" stroke="#555" stroke-width="0.8"/>
<text x="166" y="262.2" font-size="7.5" text-anchor="end" font-weight="normal" fill="#1c1c1c" letter-spacing="0.25">−0.1</text>
<line x1="169.3" y1="279.7" x2="173.4" y2="279.7" stroke="#555" stroke-width="0.8"/>
<text x="166" y="282.3" font-size="7.5" text-anchor="end" font-weight="normal" fill="#1c1c1c" letter-spacing="0.25">−0.2</text>
<line x1="190.5" y1="286.6" x2="190.5" y2="290.6" stroke="#555" stroke-width="0.8"/>
<text x="190.5" y="300" font-size="7.4" text-anchor="middle" font-weight="normal" fill="#1c1c1c">Maize</text>
<line x1="218.7" y1="286.6" x2="218.7" y2="290.6" stroke="#555" stroke-width="0.8"/>
<text x="218.7" y="300" font-size="7.4" text-anchor="middle" font-weight="normal" fill="#1c1c1c">Soybean</text>
<line x1="246.9" y1="286.6" x2="246.9" y2="290.6" stroke="#555" stroke-width="0.8"/>
<text x="246.9" y="300" font-size="7.4" text-anchor="middle" font-weight="normal" fill="#1c1c1c">Wheat</text>
<text x="218.6" y="312.4" font-size="9.1" text-anchor="middle" font-weight="normal" fill="#1c1c1c">Cash crop</text>
<text x="145.8" y="238.6" font-size="8.6" text-anchor="middle" fill="#1c1c1c" transform="rotate(-90 145.8 238.6)">SHAP value</text>
<text x="139.2" y="187.2" font-size="12.5" text-anchor="start" font-weight="bold" fill="#000">g</text>
<g clip-path="url(#cl3)">
<path d="M314.2,276.77 L313.79,195 L314.51,193.01 L316.5,192 L318.49,193.01 L319.19,195 L319.19,225.54 L322.64,226.13 L328.46,226.13 L334.28,225.54 L340.1,226.13 L345.92,225.54 L351.75,226.56 L359.02,225.54 L366.3,226.71 L372.12,226.13 L377.94,226.42 L383.76,229.04 L389.58,230.49 L395.4,231.95 L399.04,234.57 L400.06,243.3 L400.06,260.76 L399.04,270.22 L392.49,272.4 L386.67,271.67 L380.85,270.95 L372.12,270.95 L364.84,271.24 L357.57,271.67 L351.75,272.4 L345.92,273.13 L340.1,273.86 L334.28,275.31 L328.46,276.18 L322.64,276.77 L316.82,276.18Z" fill="#c49c22" filter="url(#erode)"/>
<g fill="#c49c22"><circle cx="316.5" cy="276.75" r="2.3"/><circle cx="316.48" cy="273.35" r="2.3"/><circle cx="316.47" cy="269.95" r="2.3"/><circle cx="316.45" cy="266.55" r="2.3"/><circle cx="316.43" cy="263.15" r="2.3"/><circle cx="316.42" cy="259.75" r="2.3"/><circle cx="316.4" cy="256.35" r="2.3"/><circle cx="316.38" cy="252.95" r="2.3"/><circle cx="316.37" cy="249.55" r="2.3"/><circle cx="316.35" cy="246.15" r="2.3"/><circle cx="316.33" cy="242.75" r="2.3"/><circle cx="316.32" cy="239.36" r="2.3"/><circle cx="316.3" cy="235.96" r="2.3"/><circle cx="316.28" cy="232.56" r="2.3"/><circle cx="316.26" cy="229.16" r="2.3"/><circle cx="316.25" cy="225.76" r="2.3"/><circle cx="316.23" cy="222.36" r="2.3"/><circle cx="316.21" cy="218.96" r="2.3"/><circle cx="316.2" cy="215.56" r="2.3"/><circle cx="316.18" cy="212.16" r="2.3"/><circle cx="316.16" cy="208.76" r="2.3"/><circle cx="316.15" cy="205.36" r="2.3"/><circle cx="316.13" cy="201.96" r="2.3"/><circle cx="316.11" cy="198.56" r="2.3"/><circle cx="316.09" cy="195.16" r="2.3"/><circle cx="316.54" cy="194.56" r="2.3"/><circle cx="316.34" cy="193.81" r="2.3"/><circle cx="316.89" cy="196.34" r="2.3"/><circle cx="316.89" cy="199.74" r="2.3"/><circle cx="316.89" cy="203.14" r="2.3"/><circle cx="316.89" cy="206.54" r="2.3"/><circle cx="316.89" cy="209.94" r="2.3"/><circle cx="316.89" cy="213.34" r="2.3"/><circle cx="316.89" cy="216.74" r="2.3"/><circle cx="316.89" cy="220.14" r="2.3"/><circle cx="316.89" cy="223.54" r="2.3"/><circle cx="320.18" cy="228.04" r="2.3"/><circle cx="323.94" cy="228.43" r="2.3"/><circle cx="327.34" cy="228.43" r="2.3"/><circle cx="330.96" cy="228.19" r="2.3"/><circle cx="334.34" cy="227.85" r="2.3"/><circle cx="337.26" cy="228.15" r="2.3"/><circle cx="341.1" cy="228.34" r="2.3"/><circle cx="344.49" cy="228" r="2.3"/><circle cx="347.23" cy="228.11" r="2.3"/><circle cx="350.58" cy="228.69" r="2.3"/><circle cx="354.66" cy="228.48" r="2.3"/><circle cx="358.02" cy="228.01" r="2.3"/><circle cx="360.7" cy="228.14" r="2.3"/><circle cx="364.06" cy="228.68" r="2.3"/><circle cx="368.02" cy="228.85" r="2.3"/><circle cx="371.4" cy="228.51" r="2.3"/><circle cx="374.45" cy="228.55" r="2.3"/><circle cx="377.02" cy="228.52" r="2.3"/><circle cx="380.12" cy="229.92" r="2.3"/><circle cx="383.63" cy="231.37" r="2.3"/><circle cx="386.93" cy="232.2" r="2.3"/><circle cx="390.23" cy="233.02" r="2.3"/><circle cx="393.52" cy="233.85" r="2.3"/><circle cx="395.71" cy="235.01" r="2.3"/><circle cx="396.87" cy="235.78" r="2.3"/><circle cx="397.26" cy="239.16" r="2.3"/><circle cx="397.65" cy="242.54" r="2.3"/><circle cx="397.76" cy="245.67" r="2.3"/><circle cx="397.76" cy="249.07" r="2.3"/><circle cx="397.76" cy="252.47" r="2.3"/><circle cx="397.76" cy="255.87" r="2.3"/><circle cx="397.76" cy="259.27" r="2.3"/><circle cx="397.57" cy="262.41" r="2.3"/><circle cx="397.2" cy="265.79" r="2.3"/><circle cx="396.84" cy="269.17" r="2.3"/><circle cx="395.85" cy="268.86" r="2.3"/><circle cx="392.63" cy="269.93" r="2.3"/><circle cx="390.3" cy="269.81" r="2.3"/><circle cx="386.93" cy="269.39" r="2.3"/><circle cx="383.56" cy="268.97" r="2.3"/><circle cx="379.89" cy="268.65" r="2.3"/><circle cx="376.49" cy="268.65" r="2.3"/><circle cx="373.09" cy="268.65" r="2.3"/><circle cx="369.6" cy="268.74" r="2.3"/><circle cx="366.2" cy="268.88" r="2.3"/><circle cx="362.76" cy="269.06" r="2.3"/><circle cx="359.37" cy="269.26" r="2.3"/><circle cx="355.84" cy="269.57" r="2.3"/><circle cx="352.46" cy="269.99" r="2.3"/><circle cx="349.09" cy="270.41" r="2.3"/><circle cx="345.71" cy="270.84" r="2.3"/><circle cx="342.34" cy="271.26" r="2.3"/><circle cx="338.71" cy="271.83" r="2.3"/><circle cx="335.41" cy="272.66" r="2.3"/><circle cx="332.3" cy="273.28" r="2.3"/><circle cx="328.94" cy="273.79" r="2.3"/><circle cx="325.67" cy="274.15" r="2.3"/><circle cx="322.75" cy="274.47" r="2.3"/><circle cx="319.36" cy="274.13" r="2.3"/><circle cx="315.27" cy="274.17" r="2.3"/></g>
<circle cx="331.37" cy="222.2" r="2.6" fill="#c49c22" fill-opacity="0.85"/>
<circle cx="340.1" cy="223.65" r="2.6" fill="#c49c22" fill-opacity="0.85"/>
<circle cx="359.02" cy="220.01" r="2.6" fill="#c49c22" fill-opacity="0.85"/>
<circle cx="354.66" cy="225.11" r="2.6" fill="#c49c22" fill-opacity="0.85"/>
<circle cx="380.85" cy="222.92" r="2.6" fill="#c49c22" fill-opacity="0.85"/>
<circle cx="375.03" cy="226.56" r="2.6" fill="#c49c22" fill-opacity="0.85"/>
<circle cx="364.11" cy="275.31" r="2.6" fill="#c49c22" fill-opacity="0.85"/>
<circle cx="384.49" cy="272.11" r="2.6" fill="#c49c22" fill-opacity="0.85"/>
<circle cx="322.64" cy="226.56" r="2.6" fill="#c49c22" fill-opacity="0.85"/>
<circle cx="344.47" cy="227.29" r="2.6" fill="#c49c22" fill-opacity="0.85"/>
</g>
<path d="M316.53,226.13 L316.82,249.12 C317.79,249.65 320.46,251.35 322.64,252.32 C324.82,253.29 327.01,254.26 329.92,254.94 C332.83,255.62 336.47,256.15 340.1,256.39 C343.74,256.64 347.86,256.64 351.75,256.39 C355.63,256.15 359.51,255.47 363.39,254.94 C367.27,254.4 371.15,253.68 375.03,253.19 C378.91,252.71 382.79,251.98 386.67,252.03 C390.55,252.08 396.37,253.24 398.31,253.48" fill="none" stroke="#545557" stroke-width="2.9" stroke-linecap="butt" stroke-linejoin="miter"/>
<rect x="312.3" y="190.6" width="90.1" height="88.9" fill="none" stroke="#8c8c8c" stroke-width="0.9"/>
<line x1="308.2" y1="191.9" x2="312.3" y2="191.9" stroke="#555" stroke-width="0.8"/>
<text x="304.9" y="194.5" font-size="7.5" text-anchor="end" font-weight="normal" fill="#1c1c1c" letter-spacing="0.25">0.2</text>
<line x1="308.2" y1="216.6" x2="312.3" y2="216.6" stroke="#555" stroke-width="0.8"/>
<text x="304.9" y="219.2" font-size="7.5" text-anchor="end" font-weight="normal" fill="#1c1c1c" letter-spacing="0.25">0.1</text>
<line x1="308.2" y1="241.3" x2="312.3" y2="241.3" stroke="#555" stroke-width="0.8"/>
<text x="304.9" y="243.9" font-size="7.5" text-anchor="end" font-weight="normal" fill="#1c1c1c" letter-spacing="0.25">0</text>
<line x1="308.2" y1="266" x2="312.3" y2="266" stroke="#555" stroke-width="0.8"/>
<text x="304.9" y="268.6" font-size="7.5" text-anchor="end" font-weight="normal" fill="#1c1c1c" letter-spacing="0.25">−0.1</text>
<line x1="316.2" y1="279.5" x2="316.2" y2="283.5" stroke="#555" stroke-width="0.8"/>
<text x="316.35" y="293.5" font-size="7.5" text-anchor="middle" font-weight="normal" fill="#1c1c1c" letter-spacing="0.3">0</text>
<line x1="335.48" y1="279.5" x2="335.48" y2="283.5" stroke="#555" stroke-width="0.8"/>
<text x="335.62" y="293.5" font-size="7.5" text-anchor="middle" font-weight="normal" fill="#1c1c1c" letter-spacing="0.3">100</text>
<line x1="354.75" y1="279.5" x2="354.75" y2="283.5" stroke="#555" stroke-width="0.8"/>
<text x="354.9" y="293.5" font-size="7.5" text-anchor="middle" font-weight="normal" fill="#1c1c1c" letter-spacing="0.3">200</text>
<line x1="374.02" y1="279.5" x2="374.02" y2="283.5" stroke="#555" stroke-width="0.8"/>
<text x="374.17" y="293.5" font-size="7.5" text-anchor="middle" font-weight="normal" fill="#1c1c1c" letter-spacing="0.3">300</text>
<line x1="393.3" y1="279.5" x2="393.3" y2="283.5" stroke="#555" stroke-width="0.8"/>
<text x="393.45" y="293.5" font-size="7.5" text-anchor="middle" font-weight="normal" fill="#1c1c1c" letter-spacing="0.3">400</text>
<text x="357.35" y="308.2" font-size="9.1" text-anchor="middle" font-weight="normal" fill="#1c1c1c">Initial soil nitrate (g m<tspan dy="-4.2" font-size="6.2">−2</tspan><tspan dy="4.2">)</tspan></text>
<text x="283.8" y="235.05" font-size="8.6" text-anchor="middle" fill="#1c1c1c" transform="rotate(-90 283.8 235.05)">SHAP value</text>
<text x="276" y="187.2" font-size="12.5" text-anchor="start" font-weight="bold" fill="#000">h</text>
<line x1="475.8" y1="245.2" x2="475.8" y2="282.1" stroke="#017153" stroke-width="5.6" stroke-linecap="round"/>
<line x1="516.7" y1="194.9" x2="516.7" y2="267.5" stroke="#017153" stroke-width="5.6" stroke-linecap="round"/>
<rect x="470.8" y="253.8" width="10" height="10" fill="#000"/>
<rect x="511.7" y="236.9" width="10" height="10" fill="#000"/>
<rect x="451.4" y="190.6" width="90.2" height="96" fill="none" stroke="#8c8c8c" stroke-width="0.9"/>
<line x1="447.3" y1="202.7" x2="451.4" y2="202.7" stroke="#555" stroke-width="0.8"/>
<text x="444" y="205.3" font-size="7.5" text-anchor="end" font-weight="normal" fill="#1c1c1c" letter-spacing="0.25">0.2</text>
<line x1="447.3" y1="228.37" x2="451.4" y2="228.37" stroke="#555" stroke-width="0.8"/>
<text x="444" y="230.97" font-size="7.5" text-anchor="end" font-weight="normal" fill="#1c1c1c" letter-spacing="0.25">0.1</text>
<line x1="447.3" y1="254.03" x2="451.4" y2="254.03" stroke="#555" stroke-width="0.8"/>
<text x="444" y="256.63" font-size="7.5" text-anchor="end" font-weight="normal" fill="#1c1c1c" letter-spacing="0.25">0</text>
<line x1="447.3" y1="279.7" x2="451.4" y2="279.7" stroke="#555" stroke-width="0.8"/>
<text x="444" y="282.3" font-size="7.5" text-anchor="end" font-weight="normal" fill="#1c1c1c" letter-spacing="0.25">−0.1</text>
<line x1="475.5" y1="286.6" x2="475.5" y2="290.6" stroke="#555" stroke-width="0.8"/>
<text x="475.5" y="300" font-size="7.4" text-anchor="middle" font-weight="normal" fill="#1c1c1c">Rain-fed</text>
<line x1="516.5" y1="286.6" x2="516.5" y2="290.6" stroke="#555" stroke-width="0.8"/>
<text x="516.5" y="300" font-size="7.4" text-anchor="middle" font-weight="normal" fill="#1c1c1c">Irrigated</text>
<text x="496.5" y="312.4" font-size="9.1" text-anchor="middle" font-weight="normal" fill="#1c1c1c">Water management</text>
<text x="423.6" y="238.6" font-size="8.6" text-anchor="middle" fill="#1c1c1c" transform="rotate(-90 423.6 238.6)">SHAP value</text>
<text x="416.8" y="187.2" font-size="12.5" text-anchor="start" font-weight="bold" fill="#000">i</text>
<line x1="594.1" y1="214.7" x2="594.1" y2="262.7" stroke="#017153" stroke-width="5.4" stroke-linecap="round"/>
<line x1="603.3" y1="198.6" x2="603.3" y2="263.8" stroke="#017153" stroke-width="5.4" stroke-linecap="round"/>
<line x1="629.2" y1="222.4" x2="629.2" y2="267.6" stroke="#017153" stroke-width="5.4" stroke-linecap="round"/>
<line x1="656" y1="217.5" x2="656" y2="265.3" stroke="#017153" stroke-width="5.4" stroke-linecap="round"/>
<line x1="668" y1="224.7" x2="668" y2="275.3" stroke="#017153" stroke-width="5.4" stroke-linecap="round"/>
<line x1="676.4" y1="213.9" x2="676.4" y2="274.5" stroke="#017153" stroke-width="5.4" stroke-linecap="round"/>
<circle cx="603.3" cy="194.1" r="2.6" fill="#017153" fill-opacity="0.85"/>
<circle cx="629.2" cy="210.9" r="2.6" fill="#017153" fill-opacity="0.85"/>
<circle cx="629.2" cy="272.9" r="2.6" fill="#017153" fill-opacity="0.85"/>
<circle cx="668" cy="281" r="2.6" fill="#017153" fill-opacity="0.85"/>
<path d="M594.4,239.6 C595.8,239.98 599.87,241.08 602.8,241.9 C605.73,242.72 609.18,243.65 612,244.5 C614.82,245.35 616.63,246.28 619.7,247 C622.77,247.72 626.83,248.5 630.4,248.8 C633.97,249.1 637.27,249 641.1,248.8 C644.93,248.6 649.82,247.6 653.4,247.6 C656.98,247.6 658.88,248.03 662.6,248.8 C666.32,249.57 673.52,251.63 675.7,252.2" fill="none" stroke="#545557" stroke-width="2.9" stroke-linecap="butt" stroke-linejoin="miter"/>
<rect x="589.9" y="190.6" width="90.6" height="94.5" fill="none" stroke="#8c8c8c" stroke-width="0.9"/>
<line x1="585.8" y1="192.8" x2="589.9" y2="192.8" stroke="#555" stroke-width="0.8"/>
<text x="582.5" y="195.4" font-size="7.5" text-anchor="end" font-weight="normal" fill="#1c1c1c" letter-spacing="0.25">0.2</text>
<line x1="585.8" y1="219.53" x2="589.9" y2="219.53" stroke="#555" stroke-width="0.8"/>
<text x="582.5" y="222.13" font-size="7.5" text-anchor="end" font-weight="normal" fill="#1c1c1c" letter-spacing="0.25">0.1</text>
<line x1="585.8" y1="246.27" x2="589.9" y2="246.27" stroke="#555" stroke-width="0.8"/>
<text x="582.5" y="248.87" font-size="7.5" text-anchor="end" font-weight="normal" fill="#1c1c1c" letter-spacing="0.25">0</text>
<line x1="585.8" y1="273" x2="589.9" y2="273" stroke="#555" stroke-width="0.8"/>
<text x="582.5" y="275.6" font-size="7.5" text-anchor="end" font-weight="normal" fill="#1c1c1c" letter-spacing="0.25">−0.1</text>
<line x1="609.4" y1="285.1" x2="609.4" y2="289.1" stroke="#555" stroke-width="0.8"/>
<text x="609.55" y="298" font-size="7.5" text-anchor="middle" font-weight="normal" fill="#1c1c1c" letter-spacing="0.3">0.4</text>
<line x1="632.73" y1="285.1" x2="632.73" y2="289.1" stroke="#555" stroke-width="0.8"/>
<text x="632.88" y="298" font-size="7.5" text-anchor="middle" font-weight="normal" fill="#1c1c1c" letter-spacing="0.3">0.6</text>
<line x1="656.07" y1="285.1" x2="656.07" y2="289.1" stroke="#555" stroke-width="0.8"/>
<text x="656.22" y="298" font-size="7.5" text-anchor="middle" font-weight="normal" fill="#1c1c1c" letter-spacing="0.3">0.8</text>
<line x1="679.4" y1="285.1" x2="679.4" y2="289.1" stroke="#555" stroke-width="0.8"/>
<text x="679.55" y="298" font-size="7.5" text-anchor="middle" font-weight="normal" fill="#1c1c1c" letter-spacing="0.3">1.0</text>
<text x="635.2" y="312" font-size="9.1" text-anchor="middle" font-weight="normal" fill="#1c1c1c">Initial residue fraction</text>
<text x="561.8" y="237.85" font-size="8.6" text-anchor="middle" fill="#1c1c1c" transform="rotate(-90 561.8 237.85)">SHAP value</text>
<text x="554.8" y="187.2" font-size="12.5" text-anchor="start" font-weight="bold" fill="#000">j</text>
<line x1="51.6" y1="398.5" x2="51.6" y2="447.1" stroke="#017153" stroke-width="5.6" stroke-linecap="round"/>
<circle cx="51.6" cy="393.1" r="2.6" fill="#017153" fill-opacity="0.85"/>
<line x1="79.7" y1="385.9" x2="79.7" y2="440.9" stroke="#017153" stroke-width="5.6" stroke-linecap="round"/>
<line x1="108.4" y1="367.8" x2="108.4" y2="431.7" stroke="#017153" stroke-width="5.6" stroke-linecap="round"/>
<circle cx="108.4" cy="359.4" r="2.6" fill="#017153" fill-opacity="0.85"/>
<rect x="46.6" y="419.8" width="10" height="10" fill="#000"/>
<rect x="74.7" y="414" width="10" height="10" fill="#000"/>
<rect x="103.4" y="408.3" width="10" height="10" fill="#000"/>
<rect x="35.2" y="355.4" width="89.9" height="95.9" fill="none" stroke="#8c8c8c" stroke-width="0.9"/>
<line x1="31.1" y1="367.1" x2="35.2" y2="367.1" stroke="#555" stroke-width="0.8"/>
<text x="27.8" y="369.7" font-size="7.5" text-anchor="end" font-weight="normal" fill="#1c1c1c" letter-spacing="0.25">0.2</text>
<line x1="31.1" y1="393.77" x2="35.2" y2="393.77" stroke="#555" stroke-width="0.8"/>
<text x="27.8" y="396.37" font-size="7.5" text-anchor="end" font-weight="normal" fill="#1c1c1c" letter-spacing="0.25">0.1</text>
<line x1="31.1" y1="420.43" x2="35.2" y2="420.43" stroke="#555" stroke-width="0.8"/>
<text x="27.8" y="423.03" font-size="7.5" text-anchor="end" font-weight="normal" fill="#1c1c1c" letter-spacing="0.25">0</text>
<line x1="31.1" y1="447.1" x2="35.2" y2="447.1" stroke="#555" stroke-width="0.8"/>
<text x="27.8" y="449.7" font-size="7.5" text-anchor="end" font-weight="normal" fill="#1c1c1c" letter-spacing="0.25">−0.1</text>
<line x1="51.5" y1="451.3" x2="51.5" y2="455.3" stroke="#555" stroke-width="0.8"/>
<text x="51.5" y="465" font-size="7.4" text-anchor="middle" font-weight="normal" fill="#1c1c1c">Maize</text>
<line x1="80" y1="451.3" x2="80" y2="455.3" stroke="#555" stroke-width="0.8"/>
<text x="80" y="465" font-size="7.4" text-anchor="middle" font-weight="normal" fill="#1c1c1c">Soybean</text>
<line x1="108.3" y1="451.3" x2="108.3" y2="455.3" stroke="#555" stroke-width="0.8"/>
<text x="108.3" y="465" font-size="7.4" text-anchor="middle" font-weight="normal" fill="#1c1c1c">Wheat</text>
<text x="80.15" y="478" font-size="9.1" text-anchor="middle" font-weight="normal" fill="#1c1c1c">Cash crop</text>
<text x="6.7" y="403.35" font-size="8.6" text-anchor="middle" fill="#1c1c1c" transform="rotate(-90 6.7 403.35)">SHAP value</text>
<text x="0" y="353.6" font-size="12.5" text-anchor="start" font-weight="bold" fill="#000">k</text>
<line x1="201.3" y1="398.2" x2="201.3" y2="447.1" stroke="#017153" stroke-width="5.6" stroke-linecap="round"/>
<line x1="240.4" y1="359.9" x2="240.4" y2="440.9" stroke="#017153" stroke-width="5.6" stroke-linecap="round"/>
<rect x="196.3" y="416.1" width="10" height="10" fill="#000"/>
<rect x="235.4" y="405.8" width="10" height="10" fill="#000"/>
<rect x="177.5" y="355.6" width="86.3" height="96" fill="none" stroke="#8c8c8c" stroke-width="0.9"/>
<line x1="173.4" y1="362.1" x2="177.5" y2="362.1" stroke="#555" stroke-width="0.8"/>
<text x="170.1" y="364.7" font-size="7.5" text-anchor="end" font-weight="normal" fill="#1c1c1c" letter-spacing="0.25">0.15</text>
<line x1="173.4" y1="380.8" x2="177.5" y2="380.8" stroke="#555" stroke-width="0.8"/>
<text x="170.1" y="383.4" font-size="7.5" text-anchor="end" font-weight="normal" fill="#1c1c1c" letter-spacing="0.25">0.10</text>
<line x1="173.4" y1="399.5" x2="177.5" y2="399.5" stroke="#555" stroke-width="0.8"/>
<text x="170.1" y="402.1" font-size="7.5" text-anchor="end" font-weight="normal" fill="#1c1c1c" letter-spacing="0.25">0.05</text>
<line x1="173.4" y1="418.2" x2="177.5" y2="418.2" stroke="#555" stroke-width="0.8"/>
<text x="170.1" y="420.8" font-size="7.5" text-anchor="end" font-weight="normal" fill="#1c1c1c" letter-spacing="0.25">0</text>
<line x1="173.4" y1="436.9" x2="177.5" y2="436.9" stroke="#555" stroke-width="0.8"/>
<text x="170.1" y="439.5" font-size="7.5" text-anchor="end" font-weight="normal" fill="#1c1c1c" letter-spacing="0.25">−0.05</text>
<line x1="201.4" y1="451.6" x2="201.4" y2="455.6" stroke="#555" stroke-width="0.8"/>
<text x="201.4" y="464.5" font-size="7.4" text-anchor="middle" font-weight="normal" fill="#1c1c1c">Rainfed</text>
<line x1="240.4" y1="451.6" x2="240.4" y2="455.6" stroke="#555" stroke-width="0.8"/>
<text x="240.4" y="464.5" font-size="7.4" text-anchor="middle" font-weight="normal" fill="#1c1c1c">Irrigated</text>
<text x="220.65" y="478" font-size="9.1" text-anchor="middle" font-weight="normal" fill="#1c1c1c">Water management</text>
<text x="145.8" y="403.6" font-size="8.6" text-anchor="middle" fill="#1c1c1c" transform="rotate(-90 145.8 403.6)">SHAP value</text>
<text x="139.2" y="353.6" font-size="12.5" text-anchor="start" font-weight="bold" fill="#000">l</text>
<g clip-path="url(#cl4)">
<path d="M313,449 L313,401 L316,399 L317.5,398 L319.5,397.5 L320,393 L322.5,391.5 L325,393 L326,390 L329,388.3 L332,390 L332.5,405 L333.3,413 L337.5,413 L337.6,399 L340.2,397.2 L342.8,399 L343,416 L346,416 L346.2,394 L349.5,392 L352.9,394 L353,404 L354,399 L356.4,397 L358.8,399 L359.1,374 L361.5,372.4 L363.9,374 L364,398 L365,359 L367.8,357.2 L370.6,359 L370.6,390 L373,390 L375,408 L379.8,408 L379.8,396 L381.4,396 L381.4,371 L384,368.8 L386.6,371 L386.6,386 L390.6,388 L390.6,414 L393,414 L393,403 L397,403 L397,412 L401,414 L401,431.4 L398.3,433 L396,431.4 L390.6,432.2 L384.4,435.3 L378.2,433.7 L375.9,436.8 L373.6,432.2 L368.9,431.4 L366.6,434.5 L359.6,438.4 L353.8,437.6 L345.3,434.1 L336.8,435.3 L332.1,436.8 L327.5,440.7 L323.6,442.2 L319.7,447.7 L316.6,449.2Z" fill="#017153" filter="url(#erode)"/>
<g fill="#017153"><circle cx="315.3" cy="449" r="2.3"/><circle cx="315.3" cy="445.6" r="2.3"/><circle cx="315.3" cy="442.2" r="2.3"/><circle cx="315.3" cy="438.8" r="2.3"/><circle cx="315.3" cy="435.4" r="2.3"/><circle cx="315.3" cy="432" r="2.3"/><circle cx="315.3" cy="428.6" r="2.3"/><circle cx="315.3" cy="425.2" r="2.3"/><circle cx="315.3" cy="421.8" r="2.3"/><circle cx="315.3" cy="418.4" r="2.3"/><circle cx="315.3" cy="415" r="2.3"/><circle cx="315.3" cy="411.6" r="2.3"/><circle cx="315.3" cy="408.2" r="2.3"/><circle cx="315.3" cy="404.8" r="2.3"/><circle cx="315.3" cy="401.4" r="2.3"/><circle cx="316.77" cy="401.25" r="2.3"/><circle cx="319.02" cy="399.99" r="2.3"/><circle cx="322.04" cy="395.44" r="2.3"/><circle cx="322.21" cy="394.35" r="2.3"/><circle cx="322.76" cy="394.34" r="2.3"/><circle cx="327.87" cy="391.67" r="2.3"/><circle cx="329.23" cy="390.81" r="2.3"/><circle cx="329.92" cy="391.47" r="2.3"/><circle cx="329.78" cy="392.39" r="2.3"/><circle cx="329.89" cy="395.79" r="2.3"/><circle cx="330" cy="399.18" r="2.3"/><circle cx="330.12" cy="402.58" r="2.3"/><circle cx="330.3" cy="406.13" r="2.3"/><circle cx="330.64" cy="409.51" r="2.3"/><circle cx="330.98" cy="412.9" r="2.3"/><circle cx="336.36" cy="415.3" r="2.3"/><circle cx="339.82" cy="410.75" r="2.3"/><circle cx="339.84" cy="407.35" r="2.3"/><circle cx="339.86" cy="403.95" r="2.3"/><circle cx="339.89" cy="400.55" r="2.3"/><circle cx="340.44" cy="399.83" r="2.3"/><circle cx="340.62" cy="400.29" r="2.3"/><circle cx="340.53" cy="401.37" r="2.3"/><circle cx="340.57" cy="404.77" r="2.3"/><circle cx="340.61" cy="408.17" r="2.3"/><circle cx="340.65" cy="411.57" r="2.3"/><circle cx="340.69" cy="414.97" r="2.3"/><circle cx="345.34" cy="418.3" r="2.3"/><circle cx="348.32" cy="413.28" r="2.3"/><circle cx="348.36" cy="409.88" r="2.3"/><circle cx="348.39" cy="406.48" r="2.3"/><circle cx="348.42" cy="403.08" r="2.3"/><circle cx="348.45" cy="399.68" r="2.3"/><circle cx="348.48" cy="396.28" r="2.3"/><circle cx="348.36" cy="395.38" r="2.3"/><circle cx="348.92" cy="394.33" r="2.3"/><circle cx="350.6" cy="394.16" r="2.3"/><circle cx="350.64" cy="397.56" r="2.3"/><circle cx="350.67" cy="400.96" r="2.3"/><circle cx="355.32" cy="404.12" r="2.3"/><circle cx="355.99" cy="400.79" r="2.3"/><circle cx="357.04" cy="399.46" r="2.3"/><circle cx="356.7" cy="400.25" r="2.3"/><circle cx="361.13" cy="396.44" r="2.3"/><circle cx="361.17" cy="393.04" r="2.3"/><circle cx="361.21" cy="389.64" r="2.3"/><circle cx="361.25" cy="386.24" r="2.3"/><circle cx="361.29" cy="382.84" r="2.3"/><circle cx="361.33" cy="379.44" r="2.3"/><circle cx="361.38" cy="376.04" r="2.3"/><circle cx="361.53" cy="375.15" r="2.3"/><circle cx="361.81" cy="375.37" r="2.3"/><circle cx="361.61" cy="376.43" r="2.3"/><circle cx="361.62" cy="379.83" r="2.3"/><circle cx="361.64" cy="383.23" r="2.3"/><circle cx="361.65" cy="386.63" r="2.3"/><circle cx="361.67" cy="390.03" r="2.3"/><circle cx="361.68" cy="393.43" r="2.3"/><circle cx="361.7" cy="396.83" r="2.3"/><circle cx="366.36" cy="395.84" r="2.3"/><circle cx="366.44" cy="392.45" r="2.3"/><circle cx="366.53" cy="389.05" r="2.3"/><circle cx="366.62" cy="385.65" r="2.3"/><circle cx="366.7" cy="382.25" r="2.3"/><circle cx="366.79" cy="378.85" r="2.3"/><circle cx="366.88" cy="375.45" r="2.3"/><circle cx="366.97" cy="372.05" r="2.3"/><circle cx="367.05" cy="368.65" r="2.3"/><circle cx="367.14" cy="365.25" r="2.3"/><circle cx="367.23" cy="361.86" r="2.3"/><circle cx="366.75" cy="360.61" r="2.3"/><circle cx="367.12" cy="359.5" r="2.3"/><circle cx="368.3" cy="359.75" r="2.3"/><circle cx="368.3" cy="363.15" r="2.3"/><circle cx="368.3" cy="366.55" r="2.3"/><circle cx="368.3" cy="369.95" r="2.3"/><circle cx="368.3" cy="373.35" r="2.3"/><circle cx="368.3" cy="376.75" r="2.3"/><circle cx="368.3" cy="380.15" r="2.3"/><circle cx="368.3" cy="383.55" r="2.3"/><circle cx="368.3" cy="386.95" r="2.3"/><circle cx="370.95" cy="392.3" r="2.3"/><circle cx="370.86" cy="391.59" r="2.3"/><circle cx="371.24" cy="394.97" r="2.3"/><circle cx="371.61" cy="398.35" r="2.3"/><circle cx="371.99" cy="401.73" r="2.3"/><circle cx="372.36" cy="405.11" r="2.3"/><circle cx="375.23" cy="410.3" r="2.3"/><circle cx="378.63" cy="410.3" r="2.3"/><circle cx="382.1" cy="405.77" r="2.3"/><circle cx="382.1" cy="402.37" r="2.3"/><circle cx="382.1" cy="398.97" r="2.3"/><circle cx="380.23" cy="398.3" r="2.3"/><circle cx="383.7" cy="393.77" r="2.3"/><circle cx="383.7" cy="390.37" r="2.3"/><circle cx="383.7" cy="386.97" r="2.3"/><circle cx="383.7" cy="383.57" r="2.3"/><circle cx="383.7" cy="380.17" r="2.3"/><circle cx="383.7" cy="376.77" r="2.3"/><circle cx="383.7" cy="373.37" r="2.3"/><circle cx="383.68" cy="372.09" r="2.3"/><circle cx="383.3" cy="371.22" r="2.3"/><circle cx="384.3" cy="372.02" r="2.3"/><circle cx="384.3" cy="375.42" r="2.3"/><circle cx="384.3" cy="378.82" r="2.3"/><circle cx="384.3" cy="382.22" r="2.3"/><circle cx="384.3" cy="385.62" r="2.3"/><circle cx="388.28" cy="389.41" r="2.3"/><circle cx="388.3" cy="389.95" r="2.3"/><circle cx="388.3" cy="393.35" r="2.3"/><circle cx="388.3" cy="396.75" r="2.3"/><circle cx="388.3" cy="400.15" r="2.3"/><circle cx="388.3" cy="403.55" r="2.3"/><circle cx="388.3" cy="406.95" r="2.3"/><circle cx="388.3" cy="410.35" r="2.3"/><circle cx="388.3" cy="413.75" r="2.3"/><circle cx="395.3" cy="413.25" r="2.3"/><circle cx="395.3" cy="409.85" r="2.3"/><circle cx="395.3" cy="406.45" r="2.3"/><circle cx="395.3" cy="403.05" r="2.3"/><circle cx="396.35" cy="405.3" r="2.3"/><circle cx="394.7" cy="405.75" r="2.3"/><circle cx="394.7" cy="409.15" r="2.3"/><circle cx="396.46" cy="414.3" r="2.3"/><circle cx="399.51" cy="415.82" r="2.3"/><circle cx="398.7" cy="416.88" r="2.3"/><circle cx="398.7" cy="420.28" r="2.3"/><circle cx="398.7" cy="423.68" r="2.3"/><circle cx="398.7" cy="427.08" r="2.3"/><circle cx="398.7" cy="430.48" r="2.3"/><circle cx="397.7" cy="430.68" r="2.3"/><circle cx="397.36" cy="429.55" r="2.3"/><circle cx="392.36" cy="429.61" r="2.3"/><circle cx="388.43" cy="430.72" r="2.3"/><circle cx="385.39" cy="432.24" r="2.3"/><circle cx="383.86" cy="432.79" r="2.3"/><circle cx="380.57" cy="431.94" r="2.3"/><circle cx="375.43" cy="433.57" r="2.3"/><circle cx="377.47" cy="434.8" r="2.3"/><circle cx="375.95" cy="431.76" r="2.3"/><circle cx="371.28" cy="429.47" r="2.3"/><circle cx="366.23" cy="431.13" r="2.3"/><circle cx="364.68" cy="432.94" r="2.3"/><circle cx="361.71" cy="434.59" r="2.3"/><circle cx="358.74" cy="436.25" r="2.3"/><circle cx="356.84" cy="435.7" r="2.3"/><circle cx="354.08" cy="435.23" r="2.3"/><circle cx="350.93" cy="433.93" r="2.3"/><circle cx="347.79" cy="432.64" r="2.3"/><circle cx="343.34" cy="432.05" r="2.3"/><circle cx="339.97" cy="432.53" r="2.3"/><circle cx="336.61" cy="433" r="2.3"/><circle cx="332.99" cy="434.1" r="2.3"/><circle cx="329.29" cy="436.17" r="2.3"/><circle cx="326.7" cy="438.37" r="2.3"/><circle cx="324.34" cy="439.45" r="2.3"/><circle cx="320.73" cy="442.28" r="2.3"/><circle cx="318.76" cy="445.05" r="2.3"/><circle cx="317.09" cy="446.41" r="2.3"/><circle cx="314.99" cy="446.81" r="2.3"/></g>
<circle cx="361.3" cy="365.5" r="2.6" fill="#017153" fill-opacity="0.85"/>
<circle cx="384" cy="359.6" r="2.6" fill="#017153" fill-opacity="0.85"/>
<circle cx="372.5" cy="384.5" r="2.6" fill="#017153" fill-opacity="0.85"/>
<circle cx="375.8" cy="392.6" r="2.6" fill="#017153" fill-opacity="0.85"/>
<circle cx="395.1" cy="390.4" r="2.6" fill="#017153" fill-opacity="0.85"/>
<circle cx="395.1" cy="392.6" r="2.6" fill="#017153" fill-opacity="0.85"/>
<circle cx="367.8" cy="359" r="2.6" fill="#017153" fill-opacity="0.85"/>
<circle cx="367.8" cy="362" r="2.6" fill="#017153" fill-opacity="0.85"/>
</g>
<path d="M318.19,432.21 C319.74,431.56 324.13,429.76 327.49,428.34 C330.84,426.92 334.46,425.11 338.33,423.69 C342.2,422.27 346.59,420.8 350.72,419.82 C354.85,418.84 359.75,418.25 363.11,417.81 C366.46,417.37 367.75,417.11 370.85,417.19 C373.95,417.26 378.34,417.76 381.69,418.27 C385.05,418.79 388.27,419.51 390.98,420.28 C393.69,421.06 396.79,422.48 397.95,422.92" fill="none" stroke="#545557" stroke-width="2.9" stroke-linecap="butt" stroke-linejoin="miter"/>
<rect x="313.6" y="355.6" width="88.8" height="95.4" fill="none" stroke="#8c8c8c" stroke-width="0.9"/>
<line x1="309.5" y1="376.2" x2="313.6" y2="376.2" stroke="#555" stroke-width="0.8"/>
<text x="306.2" y="378.8" font-size="7.5" text-anchor="end" font-weight="normal" fill="#1c1c1c" letter-spacing="0.25">0.10</text>
<line x1="309.5" y1="402.2" x2="313.6" y2="402.2" stroke="#555" stroke-width="0.8"/>
<text x="306.2" y="404.8" font-size="7.5" text-anchor="end" font-weight="normal" fill="#1c1c1c" letter-spacing="0.25">0.05</text>
<line x1="309.5" y1="428.2" x2="313.6" y2="428.2" stroke="#555" stroke-width="0.8"/>
<text x="306.2" y="430.8" font-size="7.5" text-anchor="end" font-weight="normal" fill="#1c1c1c" letter-spacing="0.25">0</text>
<line x1="317.9" y1="451" x2="317.9" y2="455" stroke="#555" stroke-width="0.8"/>
<text x="318.05" y="464.5" font-size="7.5" text-anchor="middle" font-weight="normal" fill="#1c1c1c" letter-spacing="0.3">0</text>
<line x1="334.02" y1="451" x2="334.02" y2="455" stroke="#555" stroke-width="0.8"/>
<text x="334.17" y="464.5" font-size="7.5" text-anchor="middle" font-weight="normal" fill="#1c1c1c" letter-spacing="0.3">0.1</text>
<line x1="350.14" y1="451" x2="350.14" y2="455" stroke="#555" stroke-width="0.8"/>
<text x="350.29" y="464.5" font-size="7.5" text-anchor="middle" font-weight="normal" fill="#1c1c1c" letter-spacing="0.3">0.2</text>
<line x1="366.26" y1="451" x2="366.26" y2="455" stroke="#555" stroke-width="0.8"/>
<text x="366.41" y="464.5" font-size="7.5" text-anchor="middle" font-weight="normal" fill="#1c1c1c" letter-spacing="0.3">0.3</text>
<line x1="382.38" y1="451" x2="382.38" y2="455" stroke="#555" stroke-width="0.8"/>
<text x="382.53" y="464.5" font-size="7.5" text-anchor="middle" font-weight="normal" fill="#1c1c1c" letter-spacing="0.3">0.4</text>
<line x1="398.5" y1="451" x2="398.5" y2="455" stroke="#555" stroke-width="0.8"/>
<text x="398.65" y="464.5" font-size="7.5" text-anchor="middle" font-weight="normal" fill="#1c1c1c" letter-spacing="0.3">0.5</text>
<text x="358" y="477.9" font-size="9.1" text-anchor="middle" font-weight="normal" fill="#1c1c1c">Nitrate fertilizer fraction</text>
<text x="283.8" y="403.3" font-size="8.6" text-anchor="middle" fill="#1c1c1c" transform="rotate(-90 283.8 403.3)">SHAP value</text>
<text x="276.7" y="353.6" font-size="12.5" text-anchor="start" font-weight="bold" fill="#000">m</text>
<g clip-path="url(#cl5)">
<path d="M454.7,444 L454.7,373.2 L458.9,371.5 L461.4,374.7 L463.2,369 L465.3,367.2 L468.2,370.4 L469.2,366.8 L471.7,364.7 L474.6,365.8 L476.4,369 L479.9,370.4 L482.1,373.2 L482.8,378.9 L483.8,391 L486.3,387.5 L488.5,384.6 L490.6,386.8 L492.7,391.7 L495.2,396.7 L498.8,396.4 L502.4,397.1 L505.3,401.4 L503.1,403.5 L501,409.2 L503.8,409.9 L508.8,411.3 L513.1,414.2 L515.9,414.9 L520.2,413.1 L525.2,412.8 L528,414.9 L530.2,416.3 L533,415.6 L537.3,414.2 L539.4,415.6 L539.8,422.8 L538.7,422.8 L535.9,423.5 L531.6,419.2 L528.8,419.9 L527.3,427.1 L523.1,427.1 L517.4,424.9 L513.8,428.5 L508.8,431.3 L502.4,429.9 L498.8,434.2 L496,440.6 L494.9,441.3 L492,434.2 L487.8,435.6 L483.5,437.4 L477.8,436.3 L475.7,438.5 L472.8,442 L469.2,437.7 L466.4,432.8 L464.3,431.3 L462.8,435.6 L461.4,442 L457.1,442Z" fill="#017153" filter="url(#erode)"/>
<g fill="#017153"><circle cx="457" cy="444" r="2.3"/><circle cx="457" cy="440.6" r="2.3"/><circle cx="457" cy="437.2" r="2.3"/><circle cx="457" cy="433.8" r="2.3"/><circle cx="457" cy="430.4" r="2.3"/><circle cx="457" cy="427" r="2.3"/><circle cx="457" cy="423.6" r="2.3"/><circle cx="457" cy="420.2" r="2.3"/><circle cx="457" cy="416.8" r="2.3"/><circle cx="457" cy="413.4" r="2.3"/><circle cx="457" cy="410" r="2.3"/><circle cx="457" cy="406.6" r="2.3"/><circle cx="457" cy="403.2" r="2.3"/><circle cx="457" cy="399.8" r="2.3"/><circle cx="457" cy="396.4" r="2.3"/><circle cx="457" cy="393" r="2.3"/><circle cx="457" cy="389.6" r="2.3"/><circle cx="457" cy="386.2" r="2.3"/><circle cx="457" cy="382.8" r="2.3"/><circle cx="457" cy="379.4" r="2.3"/><circle cx="457" cy="376" r="2.3"/><circle cx="456.12" cy="375.11" r="2.3"/><circle cx="459.27" cy="373.83" r="2.3"/><circle cx="458.85" cy="375.18" r="2.3"/><circle cx="464.26" cy="373.29" r="2.3"/><circle cx="465.28" cy="370.04" r="2.3"/><circle cx="463.77" cy="368.94" r="2.3"/><circle cx="466.06" cy="371.46" r="2.3"/><circle cx="471.15" cy="368.37" r="2.3"/><circle cx="472.52" cy="367.01" r="2.3"/><circle cx="473.26" cy="367.75" r="2.3"/><circle cx="473.99" cy="369.41" r="2.3"/><circle cx="477.93" cy="372.09" r="2.3"/><circle cx="479.45" cy="373.55" r="2.3"/><circle cx="480.07" cy="375.51" r="2.3"/><circle cx="480.48" cy="378.88" r="2.3"/><circle cx="480.76" cy="382.18" r="2.3"/><circle cx="481.04" cy="385.57" r="2.3"/><circle cx="481.32" cy="388.95" r="2.3"/><circle cx="486.34" cy="391.4" r="2.3"/><circle cx="488.29" cy="388.69" r="2.3"/><circle cx="486.85" cy="386.2" r="2.3"/><circle cx="488.63" cy="388.05" r="2.3"/><circle cx="489.97" cy="391.18" r="2.3"/><circle cx="491.47" cy="394.38" r="2.3"/><circle cx="492.99" cy="397.42" r="2.3"/><circle cx="498.43" cy="398.74" r="2.3"/><circle cx="501.15" cy="399.2" r="2.3"/><circle cx="501.93" cy="400.52" r="2.3"/><circle cx="503.14" cy="400.28" r="2.3"/><circle cx="500.55" cy="403.78" r="2.3"/><circle cx="499.37" cy="406.97" r="2.3"/><circle cx="502.26" cy="411.89" r="2.3"/><circle cx="505.48" cy="412.76" r="2.3"/><circle cx="508.01" cy="413.54" r="2.3"/><circle cx="510.82" cy="415.44" r="2.3"/><circle cx="514.68" cy="416.97" r="2.3"/><circle cx="519.3" cy="415.97" r="2.3"/><circle cx="521.79" cy="415.31" r="2.3"/><circle cx="525.19" cy="415.1" r="2.3"/><circle cx="526.42" cy="416.59" r="2.3"/><circle cx="531.28" cy="418.4" r="2.3"/><circle cx="534.72" cy="417.46" r="2.3"/><circle cx="537.95" cy="416.41" r="2.3"/><circle cx="537.15" cy="416.54" r="2.3"/><circle cx="537.34" cy="419.93" r="2.3"/><circle cx="539.4" cy="420.5" r="2.3"/><circle cx="535.52" cy="421.22" r="2.3"/><circle cx="535.25" cy="419.6" r="2.3"/><circle cx="530.53" cy="417.1" r="2.3"/><circle cx="526.34" cy="420.45" r="2.3"/><circle cx="525.64" cy="423.78" r="2.3"/><circle cx="526.81" cy="424.8" r="2.3"/><circle cx="523.41" cy="424.8" r="2.3"/><circle cx="521.05" cy="423.84" r="2.3"/><circle cx="515.5" cy="423.54" r="2.3"/><circle cx="513.1" cy="425.95" r="2.3"/><circle cx="510.85" cy="427.51" r="2.3"/><circle cx="507.89" cy="429.18" r="2.3"/><circle cx="506.21" cy="428.38" r="2.3"/><circle cx="500.63" cy="428.43" r="2.3"/><circle cx="498.45" cy="431.04" r="2.3"/><circle cx="496.21" cy="434.38" r="2.3"/><circle cx="494.85" cy="437.49" r="2.3"/><circle cx="493.91" cy="439.2" r="2.3"/><circle cx="495.85" cy="437.55" r="2.3"/><circle cx="494.57" cy="434.4" r="2.3"/><circle cx="489.15" cy="432.73" r="2.3"/><circle cx="485.79" cy="433.95" r="2.3"/><circle cx="482.66" cy="435.26" r="2.3"/><circle cx="480.64" cy="434.51" r="2.3"/><circle cx="475.48" cy="435.4" r="2.3"/><circle cx="473.1" cy="438.04" r="2.3"/><circle cx="474.46" cy="440.4" r="2.3"/><circle cx="472.28" cy="437.79" r="2.3"/><circle cx="470.53" cy="435.39" r="2.3"/><circle cx="468.84" cy="432.43" r="2.3"/><circle cx="465.7" cy="429.47" r="2.3"/><circle cx="461.03" cy="433.68" r="2.3"/><circle cx="460.09" cy="437.23" r="2.3"/><circle cx="459.36" cy="440.55" r="2.3"/><circle cx="458.98" cy="439.7" r="2.3"/><circle cx="454.46" cy="441.21" r="2.3"/></g>
<circle cx="475.3" cy="359" r="2.6" fill="#017153" fill-opacity="0.85"/>
<circle cx="479.9" cy="364.7" r="2.6" fill="#017153" fill-opacity="0.85"/>
<circle cx="498.4" cy="380.4" r="2.6" fill="#017153" fill-opacity="0.85"/>
<circle cx="509.2" cy="400.7" r="2.6" fill="#017153" fill-opacity="0.85"/>
<circle cx="528.8" cy="409.6" r="2.6" fill="#017153" fill-opacity="0.85"/>
</g>
<path d="M459.55,416.88 C460.76,416.47 464.28,414.46 466.83,414.41 C469.38,414.36 471.8,415.74 474.83,416.59 C477.87,417.44 481.38,418.73 485.02,419.5 C488.66,420.28 492.79,420.96 496.67,421.25 C500.55,421.54 504.43,421.54 508.31,421.25 C512.19,420.96 516.56,420.23 519.96,419.5 C523.35,418.77 525.78,417.73 528.69,416.88 C531.6,416.03 535.97,414.82 537.43,414.41" fill="none" stroke="#545557" stroke-width="2.9" stroke-linecap="butt" stroke-linejoin="miter"/>
<rect x="455.3" y="355.6" width="86.3" height="89.5" fill="none" stroke="#8c8c8c" stroke-width="0.9"/>
<line x1="451.2" y1="361" x2="455.3" y2="361" stroke="#555" stroke-width="0.8"/>
<text x="447.9" y="363.6" font-size="7.5" text-anchor="end" font-weight="normal" fill="#1c1c1c" letter-spacing="0.25">0.15</text>
<line x1="451.2" y1="379.52" x2="455.3" y2="379.52" stroke="#555" stroke-width="0.8"/>
<text x="447.9" y="382.12" font-size="7.5" text-anchor="end" font-weight="normal" fill="#1c1c1c" letter-spacing="0.25">0.10</text>
<line x1="451.2" y1="398.05" x2="455.3" y2="398.05" stroke="#555" stroke-width="0.8"/>
<text x="447.9" y="400.65" font-size="7.5" text-anchor="end" font-weight="normal" fill="#1c1c1c" letter-spacing="0.25">0.05</text>
<line x1="451.2" y1="416.58" x2="455.3" y2="416.58" stroke="#555" stroke-width="0.8"/>
<text x="447.9" y="419.18" font-size="7.5" text-anchor="end" font-weight="normal" fill="#1c1c1c" letter-spacing="0.25">0</text>
<line x1="451.2" y1="435.1" x2="455.3" y2="435.1" stroke="#555" stroke-width="0.8"/>
<text x="447.9" y="437.7" font-size="7.5" text-anchor="end" font-weight="normal" fill="#1c1c1c" letter-spacing="0.25">−0.05</text>
<line x1="459" y1="445.1" x2="459" y2="449.1" stroke="#555" stroke-width="0.8"/>
<text x="459.15" y="458" font-size="7.5" text-anchor="middle" font-weight="normal" fill="#1c1c1c" letter-spacing="0.3">0</text>
<line x1="482.43" y1="445.1" x2="482.43" y2="449.1" stroke="#555" stroke-width="0.8"/>
<text x="482.58" y="458" font-size="7.5" text-anchor="middle" font-weight="normal" fill="#1c1c1c" letter-spacing="0.3">20</text>
<line x1="505.87" y1="445.1" x2="505.87" y2="449.1" stroke="#555" stroke-width="0.8"/>
<text x="506.02" y="458" font-size="7.5" text-anchor="middle" font-weight="normal" fill="#1c1c1c" letter-spacing="0.3">40</text>
<line x1="529.3" y1="445.1" x2="529.3" y2="449.1" stroke="#555" stroke-width="0.8"/>
<text x="529.45" y="458" font-size="7.5" text-anchor="middle" font-weight="normal" fill="#1c1c1c" letter-spacing="0.3">60</text>
<text x="498.45" y="474.2" font-size="9.1" text-anchor="middle" font-weight="normal" fill="#1c1c1c">Nitrogen inputs (g m<tspan dy="-4.2" font-size="6.2">−2</tspan><tspan dy="4.2">)</tspan></text>
<text x="423.6" y="400.35" font-size="8.6" text-anchor="middle" fill="#1c1c1c" transform="rotate(-90 423.6 400.35)">SHAP value</text>
<text x="416.8" y="353.6" font-size="12.5" text-anchor="start" font-weight="bold" fill="#000">n</text>
<g clip-path="url(#cl6)">
<path d="M593.6,446 L593.6,368 L597,366.5 L600.4,367.2 L601.1,375.4 L602.2,380 L606.8,383.2 L611.1,382.8 L614.7,388.5 L618.6,390.7 L625.3,395 L632.5,397.4 L638.2,391 L638.8,392.5 L644.9,392.8 L646.7,396.7 L647.1,399.5 L650.9,405.4 L656.8,405.4 L659.8,404.7 L664.2,409.9 L669.4,410.6 L676.1,409.1 L678.7,412.9 L678.7,423.3 L676.1,427.7 L670.2,430 L664.2,427.7 L658.3,428.5 L652.3,430.7 L648.6,432.9 L643.4,434.4 L638.6,432.2 L635.6,429.2 L631.1,430.7 L626,431.4 L619.3,434.4 L611.8,435.1 L607.4,432.9 L602.2,436.6 L599.9,442.6 L597,444Z" fill="#c49c22" filter="url(#erode)"/>
<g fill="#c49c22"><circle cx="595.9" cy="446" r="2.3"/><circle cx="595.9" cy="442.6" r="2.3"/><circle cx="595.9" cy="439.2" r="2.3"/><circle cx="595.9" cy="435.8" r="2.3"/><circle cx="595.9" cy="432.4" r="2.3"/><circle cx="595.9" cy="429" r="2.3"/><circle cx="595.9" cy="425.6" r="2.3"/><circle cx="595.9" cy="422.2" r="2.3"/><circle cx="595.9" cy="418.8" r="2.3"/><circle cx="595.9" cy="415.4" r="2.3"/><circle cx="595.9" cy="412" r="2.3"/><circle cx="595.9" cy="408.6" r="2.3"/><circle cx="595.9" cy="405.2" r="2.3"/><circle cx="595.9" cy="401.8" r="2.3"/><circle cx="595.9" cy="398.4" r="2.3"/><circle cx="595.9" cy="395" r="2.3"/><circle cx="595.9" cy="391.6" r="2.3"/><circle cx="595.9" cy="388.2" r="2.3"/><circle cx="595.9" cy="384.8" r="2.3"/><circle cx="595.9" cy="381.4" r="2.3"/><circle cx="595.9" cy="378" r="2.3"/><circle cx="595.9" cy="374.6" r="2.3"/><circle cx="595.9" cy="371.2" r="2.3"/><circle cx="594.71" cy="370.02" r="2.3"/><circle cx="597.82" cy="368.65" r="2.3"/><circle cx="599.75" cy="369.41" r="2.3"/><circle cx="598.38" cy="370.6" r="2.3"/><circle cx="598.67" cy="373.98" r="2.3"/><circle cx="599.28" cy="377.67" r="2.3"/><circle cx="601.26" cy="382.15" r="2.3"/><circle cx="604.05" cy="384.09" r="2.3"/><circle cx="608.66" cy="385.34" r="2.3"/><circle cx="609.55" cy="384.65" r="2.3"/><circle cx="611.36" cy="387.52" r="2.3"/><circle cx="614.26" cy="390.89" r="2.3"/><circle cx="617.22" cy="392.56" r="2.3"/><circle cx="619.98" cy="394.32" r="2.3"/><circle cx="622.84" cy="396.15" r="2.3"/><circle cx="626.42" cy="397.8" r="2.3"/><circle cx="629.65" cy="398.87" r="2.3"/><circle cx="634.99" cy="398.06" r="2.3"/><circle cx="637.25" cy="395.52" r="2.3"/><circle cx="639.51" cy="392.98" r="2.3"/><circle cx="639.86" cy="394.85" r="2.3"/><circle cx="643.26" cy="395.02" r="2.3"/><circle cx="643.59" cy="395.46" r="2.3"/><circle cx="644.56" cy="397.99" r="2.3"/><circle cx="646" cy="402.04" r="2.3"/><circle cx="647.84" cy="404.9" r="2.3"/><circle cx="652.23" cy="407.7" r="2.3"/><circle cx="655.63" cy="407.7" r="2.3"/><circle cx="659.49" cy="407.13" r="2.3"/><circle cx="659.69" cy="408.13" r="2.3"/><circle cx="661.88" cy="410.72" r="2.3"/><circle cx="666.4" cy="412.52" r="2.3"/><circle cx="670.57" cy="412.69" r="2.3"/><circle cx="673.89" cy="411.95" r="2.3"/><circle cx="674.55" cy="410.91" r="2.3"/><circle cx="676.47" cy="413.72" r="2.3"/><circle cx="676.4" cy="415.72" r="2.3"/><circle cx="676.4" cy="419.12" r="2.3"/><circle cx="676.4" cy="422.52" r="2.3"/><circle cx="675.39" cy="424.38" r="2.3"/><circle cx="674.42" cy="425.89" r="2.3"/><circle cx="671.25" cy="427.12" r="2.3"/><circle cx="669.74" cy="427.36" r="2.3"/><circle cx="666.57" cy="426.14" r="2.3"/><circle cx="662.16" cy="425.66" r="2.3"/><circle cx="658.79" cy="426.11" r="2.3"/><circle cx="655.07" cy="427.23" r="2.3"/><circle cx="651.88" cy="428.4" r="2.3"/><circle cx="648.54" cy="430.26" r="2.3"/><circle cx="645.95" cy="431.27" r="2.3"/><circle cx="644.28" cy="432.27" r="2.3"/><circle cx="641.19" cy="430.86" r="2.3"/><circle cx="639.09" cy="429.44" r="2.3"/><circle cx="634.15" cy="427.26" r="2.3"/><circle cx="630.92" cy="428.33" r="2.3"/><circle cx="627.99" cy="428.8" r="2.3"/><circle cx="624.08" cy="429.74" r="2.3"/><circle cx="620.98" cy="431.13" r="2.3"/><circle cx="618.56" cy="432.16" r="2.3"/><circle cx="615.17" cy="432.48" r="2.3"/><circle cx="611.79" cy="432.79" r="2.3"/><circle cx="609.97" cy="431.61" r="2.3"/><circle cx="604.7" cy="432" r="2.3"/><circle cx="601.93" cy="433.97" r="2.3"/><circle cx="599.3" cy="437.74" r="2.3"/><circle cx="598.08" cy="440.91" r="2.3"/><circle cx="596.67" cy="441.6" r="2.3"/><circle cx="593.55" cy="443.36" r="2.3"/></g>
<circle cx="597.6" cy="359.3" r="2.6" fill="#c49c22" fill-opacity="0.85"/>
<circle cx="633.5" cy="383.9" r="2.6" fill="#c49c22" fill-opacity="0.85"/>
<circle cx="633.9" cy="389.3" r="2.6" fill="#c49c22" fill-opacity="0.85"/>
<circle cx="657.4" cy="393.9" r="2.6" fill="#c49c22" fill-opacity="0.85"/>
<circle cx="673" cy="397.4" r="2.6" fill="#c49c22" fill-opacity="0.85"/>
<circle cx="664.2" cy="401.3" r="2.6" fill="#c49c22" fill-opacity="0.85"/>
<circle cx="668" cy="401.3" r="2.6" fill="#c49c22" fill-opacity="0.85"/>
<circle cx="670.2" cy="405.4" r="2.6" fill="#c49c22" fill-opacity="0.85"/>
<circle cx="659.4" cy="405.4" r="2.6" fill="#c49c22" fill-opacity="0.85"/>
<circle cx="676.1" cy="432.2" r="2.6" fill="#c49c22" fill-opacity="0.85"/>
</g>
<path d="M597.82,415.14 C598.79,415.62 600.98,417.12 603.64,418.05 C606.31,418.97 610.2,420.13 613.83,420.67 C617.47,421.2 621.35,421.32 625.48,421.25 C629.6,421.18 633.97,420.72 638.58,420.23 C643.19,419.74 648.77,418.82 653.14,418.34 C657.5,417.85 661.02,417.49 664.78,417.32 C668.54,417.15 673.88,417.32 675.7,417.32" fill="none" stroke="#545557" stroke-width="2.9" stroke-linecap="butt" stroke-linejoin="miter"/>
<rect x="594.2" y="355.6" width="86.3" height="89.5" fill="none" stroke="#8c8c8c" stroke-width="0.9"/>
<line x1="590.1" y1="361.4" x2="594.2" y2="361.4" stroke="#555" stroke-width="0.8"/>
<text x="586.8" y="364" font-size="7.5" text-anchor="end" font-weight="normal" fill="#1c1c1c" letter-spacing="0.25">0.15</text>
<line x1="590.1" y1="378.97" x2="594.2" y2="378.97" stroke="#555" stroke-width="0.8"/>
<text x="586.8" y="381.57" font-size="7.5" text-anchor="end" font-weight="normal" fill="#1c1c1c" letter-spacing="0.25">0.10</text>
<line x1="590.1" y1="396.55" x2="594.2" y2="396.55" stroke="#555" stroke-width="0.8"/>
<text x="586.8" y="399.15" font-size="7.5" text-anchor="end" font-weight="normal" fill="#1c1c1c" letter-spacing="0.25">0.05</text>
<line x1="590.1" y1="414.12" x2="594.2" y2="414.12" stroke="#555" stroke-width="0.8"/>
<text x="586.8" y="416.73" font-size="7.5" text-anchor="end" font-weight="normal" fill="#1c1c1c" letter-spacing="0.25">0</text>
<line x1="590.1" y1="431.7" x2="594.2" y2="431.7" stroke="#555" stroke-width="0.8"/>
<text x="586.8" y="434.3" font-size="7.5" text-anchor="end" font-weight="normal" fill="#1c1c1c" letter-spacing="0.25">−0.05</text>
<line x1="597.4" y1="445.1" x2="597.4" y2="449.1" stroke="#555" stroke-width="0.8"/>
<text x="597.55" y="458" font-size="7.5" text-anchor="middle" font-weight="normal" fill="#1c1c1c" letter-spacing="0.3">0</text>
<line x1="615.9" y1="445.1" x2="615.9" y2="449.1" stroke="#555" stroke-width="0.8"/>
<text x="616.05" y="458" font-size="7.5" text-anchor="middle" font-weight="normal" fill="#1c1c1c" letter-spacing="0.3">100</text>
<line x1="634.4" y1="445.1" x2="634.4" y2="449.1" stroke="#555" stroke-width="0.8"/>
<text x="634.55" y="458" font-size="7.5" text-anchor="middle" font-weight="normal" fill="#1c1c1c" letter-spacing="0.3">200</text>
<line x1="652.9" y1="445.1" x2="652.9" y2="449.1" stroke="#555" stroke-width="0.8"/>
<text x="653.05" y="458" font-size="7.5" text-anchor="middle" font-weight="normal" fill="#1c1c1c" letter-spacing="0.3">300</text>
<line x1="671.4" y1="445.1" x2="671.4" y2="449.1" stroke="#555" stroke-width="0.8"/>
<text x="671.55" y="458" font-size="7.5" text-anchor="middle" font-weight="normal" fill="#1c1c1c" letter-spacing="0.3">400</text>
<text x="637.35" y="474.2" font-size="9.1" text-anchor="middle" font-weight="normal" fill="#1c1c1c">Initial soil nitrate (g m<tspan dy="-4.2" font-size="6.2">−2</tspan><tspan dy="4.2">)</tspan></text>
<text x="561.8" y="400.35" font-size="8.6" text-anchor="middle" fill="#1c1c1c" transform="rotate(-90 561.8 400.35)">SHAP value</text>
<text x="554.8" y="353.6" font-size="12.5" text-anchor="start" font-weight="bold" fill="#000">o</text>
<line x1="51.6" y1="533.8" x2="51.6" y2="597.7" stroke="#017153" stroke-width="5.6" stroke-linecap="round"/>
<line x1="79.7" y1="544.3" x2="79.7" y2="613.1" stroke="#017153" stroke-width="5.6" stroke-linecap="round"/>
<line x1="108.4" y1="526.2" x2="108.4" y2="597.3" stroke="#017153" stroke-width="5.6" stroke-linecap="round"/>
<rect x="46.6" y="560.2" width="10" height="10" fill="#000"/>
<rect x="74.7" y="574.2" width="10" height="10" fill="#000"/>
<rect x="103.4" y="560.2" width="10" height="10" fill="#000"/>
<rect x="35.2" y="521.1" width="90.2" height="97.1" fill="none" stroke="#8c8c8c" stroke-width="0.9"/>
<line x1="31.1" y1="533.9" x2="35.2" y2="533.9" stroke="#555" stroke-width="0.8"/>
<text x="27.8" y="536.5" font-size="7.5" text-anchor="end" font-weight="normal" fill="#1c1c1c" letter-spacing="0.25">0.2</text>
<line x1="31.1" y1="551.9" x2="35.2" y2="551.9" stroke="#555" stroke-width="0.8"/>
<text x="27.8" y="554.5" font-size="7.5" text-anchor="end" font-weight="normal" fill="#1c1c1c" letter-spacing="0.25">0.1</text>
<line x1="31.1" y1="569.9" x2="35.2" y2="569.9" stroke="#555" stroke-width="0.8"/>
<text x="27.8" y="572.5" font-size="7.5" text-anchor="end" font-weight="normal" fill="#1c1c1c" letter-spacing="0.25">0</text>
<line x1="31.1" y1="587.9" x2="35.2" y2="587.9" stroke="#555" stroke-width="0.8"/>
<text x="27.8" y="590.5" font-size="7.5" text-anchor="end" font-weight="normal" fill="#1c1c1c" letter-spacing="0.25">−0.1</text>
<line x1="31.1" y1="605.9" x2="35.2" y2="605.9" stroke="#555" stroke-width="0.8"/>
<text x="27.8" y="608.5" font-size="7.5" text-anchor="end" font-weight="normal" fill="#1c1c1c" letter-spacing="0.25">−0.2</text>
<line x1="51.4" y1="618.2" x2="51.4" y2="622.2" stroke="#555" stroke-width="0.8"/>
<text x="51.4" y="631.5" font-size="7.4" text-anchor="middle" font-weight="normal" fill="#1c1c1c">Maize</text>
<line x1="79.9" y1="618.2" x2="79.9" y2="622.2" stroke="#555" stroke-width="0.8"/>
<text x="79.9" y="631.5" font-size="7.4" text-anchor="middle" font-weight="normal" fill="#1c1c1c">Soybean</text>
<line x1="108.1" y1="618.2" x2="108.1" y2="622.2" stroke="#555" stroke-width="0.8"/>
<text x="108.1" y="631.5" font-size="7.4" text-anchor="middle" font-weight="normal" fill="#1c1c1c">Wheat</text>
<text x="80.3" y="645" font-size="9.1" text-anchor="middle" font-weight="normal" fill="#1c1c1c">Cash crop</text>
<text x="6.7" y="569.65" font-size="8.6" text-anchor="middle" fill="#1c1c1c" transform="rotate(-90 6.7 569.65)">SHAP value</text>
<text x="0" y="517.3" font-size="12.5" text-anchor="start" font-weight="bold" fill="#000">p</text>
<g clip-path="url(#cl7)">
<path d="M175.2,605.86 L174.3,526.5 L175,524.51 L177.19,523.3 L179.41,524.51 L180,526.5 L180,545.99 L182.19,549.1 L185.1,553.47 L188.01,556.38 L192.37,552.01 L195.28,554.92 L198.19,557.83 L202.56,557.11 L206.92,558.56 L211.29,556.38 L215.66,554.92 L220.02,550.56 L223.66,554.92 L227.3,552.01 L230.21,557.83 L236.03,559.29 L241.85,560.75 L247.67,560.02 L252.03,562.2 L253.49,566.57 L257.86,569.48 L260.77,572.39 L261.06,598.58 L257.86,600.03 L250.58,598.58 L244.76,599.31 L234.57,599.31 L227.3,600.03 L220.02,600.03 L214.2,601.49 L208.38,602.22 L201.1,601.49 L196.74,602.95 L190.92,607.31 L185.1,608.04 L179.28,607.31 L175.64,604.4Z" fill="#c49c22" filter="url(#erode)"/>
<g fill="#c49c22"><circle cx="177.5" cy="605.83" r="2.3"/><circle cx="177.46" cy="602.43" r="2.3"/><circle cx="177.42" cy="599.03" r="2.3"/><circle cx="177.39" cy="595.63" r="2.3"/><circle cx="177.35" cy="592.23" r="2.3"/><circle cx="177.31" cy="588.83" r="2.3"/><circle cx="177.27" cy="585.43" r="2.3"/><circle cx="177.23" cy="582.03" r="2.3"/><circle cx="177.19" cy="578.63" r="2.3"/><circle cx="177.15" cy="575.23" r="2.3"/><circle cx="177.11" cy="571.83" r="2.3"/><circle cx="177.08" cy="568.43" r="2.3"/><circle cx="177.04" cy="565.03" r="2.3"/><circle cx="177" cy="561.63" r="2.3"/><circle cx="176.96" cy="558.23" r="2.3"/><circle cx="176.92" cy="554.83" r="2.3"/><circle cx="176.88" cy="551.43" r="2.3"/><circle cx="176.84" cy="548.03" r="2.3"/><circle cx="176.81" cy="544.63" r="2.3"/><circle cx="176.77" cy="541.23" r="2.3"/><circle cx="176.73" cy="537.83" r="2.3"/><circle cx="176.69" cy="534.43" r="2.3"/><circle cx="176.65" cy="531.03" r="2.3"/><circle cx="176.61" cy="527.63" r="2.3"/><circle cx="176.22" cy="526.46" r="2.3"/><circle cx="176.99" cy="525.81" r="2.3"/><circle cx="177.75" cy="526.99" r="2.3"/><circle cx="177.7" cy="529.73" r="2.3"/><circle cx="177.7" cy="533.13" r="2.3"/><circle cx="177.7" cy="536.53" r="2.3"/><circle cx="177.7" cy="539.93" r="2.3"/><circle cx="177.7" cy="543.33" r="2.3"/><circle cx="178.54" cy="547.91" r="2.3"/><circle cx="180.46" cy="550.66" r="2.3"/><circle cx="182.34" cy="553.49" r="2.3"/><circle cx="184.81" cy="556.43" r="2.3"/><circle cx="190.46" cy="557.18" r="2.3"/><circle cx="192.87" cy="554.77" r="2.3"/><circle cx="192.02" cy="554.91" r="2.3"/><circle cx="194.42" cy="557.32" r="2.3"/><circle cx="198.93" cy="560.04" r="2.3"/><circle cx="202.29" cy="559.48" r="2.3"/><circle cx="204.43" cy="560.16" r="2.3"/><circle cx="209.33" cy="559.93" r="2.3"/><circle cx="212.07" cy="558.54" r="2.3"/><circle cx="215.3" cy="557.47" r="2.3"/><circle cx="218.88" cy="554.95" r="2.3"/><circle cx="221.28" cy="552.55" r="2.3"/><circle cx="220.1" cy="554.25" r="2.3"/><circle cx="225.56" cy="556.35" r="2.3"/><circle cx="228.22" cy="554.22" r="2.3"/><circle cx="226.47" cy="555.49" r="2.3"/><circle cx="227.99" cy="558.54" r="2.3"/><circle cx="232.59" cy="560.8" r="2.3"/><circle cx="235.89" cy="561.63" r="2.3"/><circle cx="239.19" cy="562.45" r="2.3"/><circle cx="243.36" cy="562.87" r="2.3"/><circle cx="246.73" cy="562.45" r="2.3"/><circle cx="248.58" cy="563.04" r="2.3"/><circle cx="250.07" cy="563.58" r="2.3"/><circle cx="251.15" cy="566.81" r="2.3"/><circle cx="254.62" cy="570.08" r="2.3"/><circle cx="256.96" cy="571.84" r="2.3"/><circle cx="258.47" cy="572.74" r="2.3"/><circle cx="258.51" cy="576.13" r="2.3"/><circle cx="258.55" cy="579.53" r="2.3"/><circle cx="258.58" cy="582.93" r="2.3"/><circle cx="258.62" cy="586.33" r="2.3"/><circle cx="258.66" cy="589.73" r="2.3"/><circle cx="258.7" cy="593.13" r="2.3"/><circle cx="258.73" cy="596.53" r="2.3"/><circle cx="258.9" cy="597.04" r="2.3"/><circle cx="257.12" cy="597.54" r="2.3"/><circle cx="253.78" cy="596.88" r="2.3"/><circle cx="249.71" cy="596.37" r="2.3"/><circle cx="246.33" cy="596.79" r="2.3"/><circle cx="243.23" cy="597.01" r="2.3"/><circle cx="239.83" cy="597.01" r="2.3"/><circle cx="236.43" cy="597.01" r="2.3"/><circle cx="232.81" cy="597.17" r="2.3"/><circle cx="229.43" cy="597.51" r="2.3"/><circle cx="226.27" cy="597.73" r="2.3"/><circle cx="222.87" cy="597.73" r="2.3"/><circle cx="218.93" cy="597.94" r="2.3"/><circle cx="215.63" cy="598.76" r="2.3"/><circle cx="212.57" cy="599.38" r="2.3"/><circle cx="209.2" cy="599.8" r="2.3"/><circle cx="206.33" cy="599.7" r="2.3"/><circle cx="202.95" cy="599.36" r="2.3"/><circle cx="198.69" cy="599.87" r="2.3"/><circle cx="194.9" cy="601.45" r="2.3"/><circle cx="192.18" cy="603.49" r="2.3"/><circle cx="190.54" cy="605.04" r="2.3"/><circle cx="187.16" cy="605.46" r="2.3"/><circle cx="184.36" cy="605.63" r="2.3"/><circle cx="180.99" cy="605.21" r="2.3"/><circle cx="179.18" cy="604.29" r="2.3"/><circle cx="173.23" cy="604.41" r="2.3"/></g>
<circle cx="189.03" cy="607.31" r="2.6" fill="#c49c22" fill-opacity="0.85"/>
<circle cx="213.47" cy="601.2" r="2.6" fill="#c49c22" fill-opacity="0.85"/>
<circle cx="251.31" cy="562.2" r="2.6" fill="#c49c22" fill-opacity="0.85"/>
<circle cx="246.94" cy="560.45" r="2.6" fill="#c49c22" fill-opacity="0.85"/>
<circle cx="220.46" cy="551" r="2.6" fill="#c49c22" fill-opacity="0.85"/>
</g>
<path d="M177.53,561.91 L178.11,577.48 C179.03,578.33 181.26,580.75 183.64,582.57 C186.02,584.39 189.46,586.94 192.37,588.39 C195.28,589.85 197.95,590.7 201.1,591.3 C204.26,591.91 207.89,592.15 211.29,592.03 C214.69,591.91 217.84,591.3 221.48,590.58 C225.11,589.85 229.24,588.51 233.12,587.67 C237,586.82 240.39,585.97 244.76,585.48 C249.12,585 256.89,584.88 259.31,584.76" fill="none" stroke="#545557" stroke-width="2.9" stroke-linecap="butt" stroke-linejoin="miter"/>
<rect x="173.6" y="521.9" width="90.1" height="88.9" fill="none" stroke="#8c8c8c" stroke-width="0.9"/>
<line x1="169.5" y1="523.8" x2="173.6" y2="523.8" stroke="#555" stroke-width="0.8"/>
<text x="166.2" y="526.4" font-size="7.5" text-anchor="end" font-weight="normal" fill="#1c1c1c" letter-spacing="0.25">0.2</text>
<line x1="169.5" y1="545.45" x2="173.6" y2="545.45" stroke="#555" stroke-width="0.8"/>
<text x="166.2" y="548.05" font-size="7.5" text-anchor="end" font-weight="normal" fill="#1c1c1c" letter-spacing="0.25">0.1</text>
<line x1="169.5" y1="567.1" x2="173.6" y2="567.1" stroke="#555" stroke-width="0.8"/>
<text x="166.2" y="569.7" font-size="7.5" text-anchor="end" font-weight="normal" fill="#1c1c1c" letter-spacing="0.25">0</text>
<line x1="169.5" y1="588.75" x2="173.6" y2="588.75" stroke="#555" stroke-width="0.8"/>
<text x="166.2" y="591.35" font-size="7.5" text-anchor="end" font-weight="normal" fill="#1c1c1c" letter-spacing="0.25">−0.1</text>
<line x1="169.5" y1="610.4" x2="173.6" y2="610.4" stroke="#555" stroke-width="0.8"/>
<text x="166.2" y="613" font-size="7.5" text-anchor="end" font-weight="normal" fill="#1c1c1c" letter-spacing="0.25">−0.2</text>
<line x1="177.7" y1="610.8" x2="177.7" y2="614.8" stroke="#555" stroke-width="0.8"/>
<text x="178.45" y="625" font-size="7.5" text-anchor="middle" font-weight="normal" fill="#1c1c1c" letter-spacing="0.3">0</text>
<line x1="196.92" y1="610.8" x2="196.92" y2="614.8" stroke="#555" stroke-width="0.8"/>
<text x="198.85" y="625" font-size="7.5" text-anchor="middle" font-weight="normal" fill="#1c1c1c" letter-spacing="0.3">100</text>
<line x1="216.15" y1="610.8" x2="216.15" y2="614.8" stroke="#555" stroke-width="0.8"/>
<text x="219.95" y="625" font-size="7.5" text-anchor="middle" font-weight="normal" fill="#1c1c1c" letter-spacing="0.3">200</text>
<line x1="235.38" y1="610.8" x2="235.38" y2="614.8" stroke="#555" stroke-width="0.8"/>
<text x="241.45" y="625" font-size="7.5" text-anchor="middle" font-weight="normal" fill="#1c1c1c" letter-spacing="0.3">300</text>
<line x1="254.6" y1="610.8" x2="254.6" y2="614.8" stroke="#555" stroke-width="0.8"/>
<text x="263.15" y="625" font-size="7.5" text-anchor="middle" font-weight="normal" fill="#1c1c1c" letter-spacing="0.3">400</text>
<text x="218.65" y="640" font-size="9.1" text-anchor="middle" font-weight="normal" fill="#1c1c1c">Initial soil nitrate (g cm<tspan dy="-4.2" font-size="6.2">−2</tspan><tspan dy="4.2">)</tspan></text>
<text x="145.8" y="566.35" font-size="8.6" text-anchor="middle" fill="#1c1c1c" transform="rotate(-90 145.8 566.35)">SHAP value</text>
<text x="138.8" y="517.3" font-size="12.5" text-anchor="start" font-weight="bold" fill="#000">q</text>
<g clip-path="url(#cl8)">
<path d="M314.64,566.57 L315.37,556.38 L318.28,552.74 L321.91,552.01 L324.1,556.38 L328.46,554.2 L332.83,552.74 L335.01,543.28 L338.65,536.01 L342.29,536.73 L345.92,540.37 L350.29,539.64 L354.66,537.46 L360.48,536.73 L365.57,536.01 L366.3,528.73 L368.48,524.37 L371.39,525.82 L372.12,534.55 L375.03,538.92 L379.39,540.37 L383.76,541.83 L388.12,544.01 L390.31,547.65 L390.74,560.75 L393.95,560.75 L394.67,544.74 L397.58,542.56 L399.77,546.19 L399.77,566.57 L396.86,568.02 L394.67,566.57 L390.31,566.57 L386.67,568.02 L380.85,567.29 L375.03,568.75 L373.57,575.3 L370.66,575.3 L367.75,570.2 L363.39,574.57 L359.02,573.11 L356.11,568.02 L350.29,565.11 L344.47,563.66 L340.1,565.11 L337.19,569.48 L334.28,578.21 L332.83,589.85 L331.37,602.95 L328.46,607.31 L324.1,608.77 L321.19,607.31 L319,602.95 L316.09,594.21 L314.64,582.57Z" fill="#fccbf2" filter="url(#erode)"/>
<g fill="#fccbf2"><circle cx="316.93" cy="566.73" r="2.3"/><circle cx="317.17" cy="563.34" r="2.3"/><circle cx="317.42" cy="559.95" r="2.3"/><circle cx="317.66" cy="556.56" r="2.3"/><circle cx="319.28" cy="555.17" r="2.3"/><circle cx="320.81" cy="554.58" r="2.3"/><circle cx="320.67" cy="554.67" r="2.3"/><circle cx="325.43" cy="558.29" r="2.3"/><circle cx="328.47" cy="556.76" r="2.3"/><circle cx="331.33" cy="555.66" r="2.3"/><circle cx="335.31" cy="552.23" r="2.3"/><circle cx="336.07" cy="548.92" r="2.3"/><circle cx="336.84" cy="545.6" r="2.3"/><circle cx="337.76" cy="542.93" r="2.3"/><circle cx="339.28" cy="539.89" r="2.3"/><circle cx="338.41" cy="538.3" r="2.3"/><circle cx="341.74" cy="538.97" r="2.3"/><circle cx="343" cy="540.7" r="2.3"/><circle cx="347.84" cy="542.38" r="2.3"/><circle cx="351.8" cy="541.46" r="2.3"/><circle cx="354.84" cy="539.94" r="2.3"/><circle cx="357.37" cy="539.44" r="2.3"/><circle cx="360.75" cy="539.02" r="2.3"/><circle cx="364.15" cy="538.53" r="2.3"/><circle cx="368.02" cy="534.6" r="2.3"/><circle cx="368.36" cy="531.22" r="2.3"/><circle cx="368.86" cy="528.75" r="2.3"/><circle cx="370.38" cy="525.71" r="2.3"/><circle cx="370.18" cy="527.79" r="2.3"/><circle cx="369.36" cy="529.2" r="2.3"/><circle cx="369.65" cy="532.58" r="2.3"/><circle cx="370.89" cy="536.85" r="2.3"/><circle cx="372.77" cy="539.68" r="2.3"/><circle cx="376.94" cy="541.98" r="2.3"/><circle cx="380.17" cy="543.06" r="2.3"/><circle cx="383.07" cy="544.06" r="2.3"/><circle cx="386.11" cy="545.58" r="2.3"/><circle cx="387.34" cy="547.17" r="2.3"/><circle cx="388.06" cy="549.18" r="2.3"/><circle cx="388.17" cy="552.58" r="2.3"/><circle cx="388.28" cy="555.98" r="2.3"/><circle cx="388.4" cy="559.38" r="2.3"/><circle cx="392.7" cy="563.05" r="2.3"/><circle cx="396.34" cy="558.7" r="2.3"/><circle cx="396.5" cy="555.3" r="2.3"/><circle cx="396.65" cy="551.9" r="2.3"/><circle cx="396.8" cy="548.51" r="2.3"/><circle cx="396.96" cy="545.11" r="2.3"/><circle cx="398.56" cy="544.7" r="2.3"/><circle cx="397.1" cy="546.22" r="2.3"/><circle cx="397.47" cy="548.24" r="2.3"/><circle cx="397.47" cy="551.64" r="2.3"/><circle cx="397.47" cy="555.04" r="2.3"/><circle cx="397.47" cy="558.44" r="2.3"/><circle cx="397.47" cy="561.84" r="2.3"/><circle cx="397.47" cy="565.24" r="2.3"/><circle cx="396.88" cy="565.44" r="2.3"/><circle cx="396.28" cy="564.87" r="2.3"/><circle cx="391.67" cy="564.27" r="2.3"/><circle cx="387.56" cy="565.19" r="2.3"/><circle cx="385.45" cy="565.55" r="2.3"/><circle cx="382.08" cy="565.13" r="2.3"/><circle cx="377.91" cy="565.66" r="2.3"/><circle cx="374.61" cy="566.48" r="2.3"/><circle cx="372.08" cy="571.42" r="2.3"/><circle cx="371.34" cy="574.74" r="2.3"/><circle cx="372.44" cy="573.78" r="2.3"/><circle cx="370.76" cy="570.83" r="2.3"/><circle cx="365.16" cy="569.54" r="2.3"/><circle cx="362.76" cy="571.95" r="2.3"/><circle cx="362.22" cy="571.76" r="2.3"/><circle cx="360.63" cy="571.29" r="2.3"/><circle cx="358.94" cy="568.33" r="2.3"/><circle cx="355.6" cy="565.19" r="2.3"/><circle cx="352.56" cy="563.67" r="2.3"/><circle cx="348.89" cy="562.39" r="2.3"/><circle cx="345.59" cy="561.57" r="2.3"/><circle cx="341.07" cy="562.36" r="2.3"/><circle cx="337.29" cy="565.18" r="2.3"/><circle cx="335.41" cy="568.01" r="2.3"/><circle cx="334.01" cy="571.76" r="2.3"/><circle cx="332.93" cy="574.98" r="2.3"/><circle cx="331.91" cy="578.68" r="2.3"/><circle cx="331.48" cy="582.06" r="2.3"/><circle cx="331.06" cy="585.43" r="2.3"/><circle cx="330.64" cy="588.8" r="2.3"/><circle cx="330.25" cy="592.21" r="2.3"/><circle cx="329.88" cy="595.59" r="2.3"/><circle cx="329.5" cy="598.97" r="2.3"/><circle cx="329.12" cy="602.35" r="2.3"/><circle cx="327.76" cy="604.21" r="2.3"/><circle cx="326.59" cy="605.51" r="2.3"/><circle cx="325.12" cy="606.71" r="2.3"/><circle cx="323.17" cy="606.14" r="2.3"/><circle cx="321.65" cy="603.1" r="2.3"/><circle cx="320.53" cy="600.25" r="2.3"/><circle cx="319.45" cy="597.03" r="2.3"/><circle cx="318.38" cy="593.8" r="2.3"/><circle cx="317.99" cy="590.88" r="2.3"/><circle cx="317.57" cy="587.51" r="2.3"/><circle cx="317.15" cy="584.14" r="2.3"/><circle cx="316.94" cy="581.03" r="2.3"/><circle cx="316.94" cy="577.63" r="2.3"/><circle cx="316.94" cy="574.23" r="2.3"/><circle cx="316.94" cy="570.83" r="2.3"/><circle cx="316.94" cy="567.43" r="2.3"/></g>
<circle cx="320.9" cy="546.63" r="2.6" fill="#fccbf2" fill-opacity="0.85"/>
</g>
<path d="M316.82,577.48 C317.55,577.84 319.73,579.54 321.19,579.66 C322.64,579.78 323.85,579.9 325.55,578.21 C327.25,576.51 329.43,572.51 331.37,569.48 C333.31,566.44 335.25,562.32 337.19,560.02 C339.13,557.71 341.07,556.5 343.01,555.65 C344.95,554.8 346.89,554.8 348.83,554.92 C350.77,555.05 352.47,556.02 354.66,556.38 C356.84,556.74 358.29,556.94 361.93,557.11 C365.57,557.28 370.42,557.16 376.48,557.4 C382.55,557.64 394.67,558.37 398.31,558.56" fill="none" stroke="#545557" stroke-width="2.9" stroke-linecap="butt" stroke-linejoin="miter"/>
<rect x="312.3" y="521.9" width="90.5" height="89.4" fill="none" stroke="#8c8c8c" stroke-width="0.9"/>
<line x1="308.2" y1="522.2" x2="312.3" y2="522.2" stroke="#555" stroke-width="0.8"/>
<text x="304.9" y="524.8" font-size="7.5" text-anchor="end" font-weight="normal" fill="#1c1c1c" letter-spacing="0.25">0.2</text>
<line x1="308.2" y1="541.98" x2="312.3" y2="541.98" stroke="#555" stroke-width="0.8"/>
<text x="304.9" y="544.58" font-size="7.5" text-anchor="end" font-weight="normal" fill="#1c1c1c" letter-spacing="0.25">0.1</text>
<line x1="308.2" y1="561.75" x2="312.3" y2="561.75" stroke="#555" stroke-width="0.8"/>
<text x="304.9" y="564.35" font-size="7.5" text-anchor="end" font-weight="normal" fill="#1c1c1c" letter-spacing="0.25">0</text>
<line x1="308.2" y1="581.52" x2="312.3" y2="581.52" stroke="#555" stroke-width="0.8"/>
<text x="304.9" y="584.12" font-size="7.5" text-anchor="end" font-weight="normal" fill="#1c1c1c" letter-spacing="0.25">−0.1</text>
<line x1="308.2" y1="601.3" x2="312.3" y2="601.3" stroke="#555" stroke-width="0.8"/>
<text x="304.9" y="603.9" font-size="7.5" text-anchor="end" font-weight="normal" fill="#1c1c1c" letter-spacing="0.25">−0.2</text>
<line x1="331.1" y1="611.3" x2="331.1" y2="615.3" stroke="#555" stroke-width="0.8"/>
<text x="330.95" y="624.9" font-size="7.5" text-anchor="middle" font-weight="normal" fill="#1c1c1c" letter-spacing="0.3">1.2</text>
<line x1="353.5" y1="611.3" x2="353.5" y2="615.3" stroke="#555" stroke-width="0.8"/>
<text x="352.35" y="624.9" font-size="7.5" text-anchor="middle" font-weight="normal" fill="#1c1c1c" letter-spacing="0.3">1.4</text>
<line x1="375.9" y1="611.3" x2="375.9" y2="615.3" stroke="#555" stroke-width="0.8"/>
<text x="374.25" y="624.9" font-size="7.5" text-anchor="middle" font-weight="normal" fill="#1c1c1c" letter-spacing="0.3">1.6</text>
<line x1="398.3" y1="611.3" x2="398.3" y2="615.3" stroke="#555" stroke-width="0.8"/>
<text x="395.75" y="624.9" font-size="7.5" text-anchor="middle" font-weight="normal" fill="#1c1c1c" letter-spacing="0.3">1.8</text>
<text x="357.55" y="640" font-size="9.1" text-anchor="middle" font-weight="normal" fill="#1c1c1c">Soil bulk density (g cm<tspan dy="-4.2" font-size="6.2">−3</tspan><tspan dy="4.2">)</tspan></text>
<text x="283.8" y="566.6" font-size="8.6" text-anchor="middle" fill="#1c1c1c" transform="rotate(-90 283.8 566.6)">SHAP value</text>
<text x="275.5" y="517.3" font-size="12.5" text-anchor="start" font-weight="bold" fill="#000">r</text>
<g clip-path="url(#cl9)">
<path d="M451,603 L451,531.7 L453.5,524.6 L455.6,523.1 L457.8,525.3 L458.8,530.3 L460.3,535.2 L462.4,540.2 L463.5,543.8 L464.2,537.4 L465.2,528.8 L467.4,527.4 L469.9,528.8 L471.7,531.7 L472.4,535.2 L474.5,537.7 L475.9,535.2 L479.5,536.7 L479.5,539.5 L483.1,540.2 L485.9,534.5 L489.5,535.2 L492.3,538.1 L495.2,533.1 L497.8,533.8 L499.3,538.1 L503.5,541 L506.4,542.4 L510.7,543.1 L513.5,545.2 L514.2,550.9 L516.4,549.5 L519.2,552.3 L521.4,543.1 L523.5,541.7 L527.8,544.5 L529.9,546.6 L529.2,551.6 L527.5,558 L527.8,566 L527.5,572 L524.9,572.8 L522.1,573.5 L521.4,577.1 L516.4,577.1 L510,579.2 L504.3,580.7 L499.3,582.8 L499.3,586.4 L495,592.1 L490.9,592.1 L488,595.6 L484.5,597.8 L479.5,598.5 L475.2,599.9 L471.7,601.3 L470.2,607 L468.1,609.2 L465.2,606.3 L464.5,592.1 L462.4,587.8 L460.3,594.9 L458.1,599.9 L456,602.7 L451,601.3Z" fill="#017153" filter="url(#erode)"/>
<g fill="#017153"><circle cx="453.3" cy="603" r="2.3"/><circle cx="453.3" cy="599.6" r="2.3"/><circle cx="453.3" cy="596.2" r="2.3"/><circle cx="453.3" cy="592.8" r="2.3"/><circle cx="453.3" cy="589.4" r="2.3"/><circle cx="453.3" cy="586" r="2.3"/><circle cx="453.3" cy="582.6" r="2.3"/><circle cx="453.3" cy="579.2" r="2.3"/><circle cx="453.3" cy="575.8" r="2.3"/><circle cx="453.3" cy="572.4" r="2.3"/><circle cx="453.3" cy="569" r="2.3"/><circle cx="453.3" cy="565.6" r="2.3"/><circle cx="453.3" cy="562.2" r="2.3"/><circle cx="453.3" cy="558.8" r="2.3"/><circle cx="453.3" cy="555.4" r="2.3"/><circle cx="453.3" cy="552" r="2.3"/><circle cx="453.3" cy="548.6" r="2.3"/><circle cx="453.3" cy="545.2" r="2.3"/><circle cx="453.3" cy="541.8" r="2.3"/><circle cx="453.3" cy="538.4" r="2.3"/><circle cx="453.3" cy="535" r="2.3"/><circle cx="453.2" cy="532.37" r="2.3"/><circle cx="454.33" cy="529.16" r="2.3"/><circle cx="455.46" cy="525.96" r="2.3"/><circle cx="454.11" cy="524.86" r="2.3"/><circle cx="455.64" cy="526.22" r="2.3"/><circle cx="456.31" cy="529.56" r="2.3"/><circle cx="457.24" cy="533.06" r="2.3"/><circle cx="458.36" cy="536.51" r="2.3"/><circle cx="459.67" cy="539.65" r="2.3"/><circle cx="460.74" cy="542.63" r="2.3"/><circle cx="465.95" cy="542.59" r="2.3"/><circle cx="466.32" cy="539.21" r="2.3"/><circle cx="466.7" cy="535.85" r="2.3"/><circle cx="467.09" cy="532.47" r="2.3"/><circle cx="467.48" cy="529.09" r="2.3"/><circle cx="466.94" cy="529.78" r="2.3"/><circle cx="468.63" cy="531.12" r="2.3"/><circle cx="469.7" cy="533.41" r="2.3"/><circle cx="471.36" cy="537.54" r="2.3"/><circle cx="477.12" cy="537.73" r="2.3"/><circle cx="476.67" cy="538.01" r="2.3"/><circle cx="477.2" cy="537.99" r="2.3"/><circle cx="480.91" cy="542.12" r="2.3"/><circle cx="485.88" cy="539.76" r="2.3"/><circle cx="487.38" cy="536.71" r="2.3"/><circle cx="487.49" cy="537.15" r="2.3"/><circle cx="489.1" cy="538.09" r="2.3"/><circle cx="494.88" cy="538.24" r="2.3"/><circle cx="496.58" cy="535.3" r="2.3"/><circle cx="496.72" cy="535.89" r="2.3"/><circle cx="496.58" cy="537.29" r="2.3"/><circle cx="499.43" cy="540.98" r="2.3"/><circle cx="502.54" cy="543.09" r="2.3"/><circle cx="506.25" cy="544.71" r="2.3"/><circle cx="509.6" cy="545.25" r="2.3"/><circle cx="511.45" cy="546.54" r="2.3"/><circle cx="511.53" cy="548.03" r="2.3"/><circle cx="515.62" cy="552.72" r="2.3"/><circle cx="515.49" cy="551.84" r="2.3"/><circle cx="521.54" cy="552.39" r="2.3"/><circle cx="522.33" cy="549.09" r="2.3"/><circle cx="523.12" cy="545.78" r="2.3"/><circle cx="523.67" cy="544.35" r="2.3"/><circle cx="523.98" cy="544.76" r="2.3"/><circle cx="526.41" cy="546.37" r="2.3"/><circle cx="527.52" cy="547.04" r="2.3"/><circle cx="527.04" cy="550.41" r="2.3"/><circle cx="526.33" cy="553.45" r="2.3"/><circle cx="525.46" cy="556.73" r="2.3"/><circle cx="525.3" cy="560.78" r="2.3"/><circle cx="525.43" cy="564.18" r="2.3"/><circle cx="525.43" cy="567.38" r="2.3"/><circle cx="525.26" cy="570.77" r="2.3"/><circle cx="524.64" cy="570.47" r="2.3"/><circle cx="519.83" cy="573.14" r="2.3"/><circle cx="519.18" cy="576.48" r="2.3"/><circle cx="518.19" cy="574.8" r="2.3"/><circle cx="514.15" cy="575.42" r="2.3"/><circle cx="510.92" cy="576.48" r="2.3"/><circle cx="507.79" cy="577.4" r="2.3"/><circle cx="504.51" cy="578.27" r="2.3"/><circle cx="501.03" cy="579.58" r="2.3"/><circle cx="497" cy="583.36" r="2.3"/><circle cx="497.25" cy="585.3" r="2.3"/><circle cx="495.2" cy="588.02" r="2.3"/><circle cx="494.98" cy="589.8" r="2.3"/><circle cx="491.58" cy="589.8" r="2.3"/><circle cx="487.39" cy="592.73" r="2.3"/><circle cx="485.44" cy="594.49" r="2.3"/><circle cx="483.35" cy="595.64" r="2.3"/><circle cx="479.98" cy="596.11" r="2.3"/><circle cx="476.32" cy="597.11" r="2.3"/><circle cx="472.98" cy="598.31" r="2.3"/><circle cx="469.2" cy="601.78" r="2.3"/><circle cx="468.33" cy="605.07" r="2.3"/><circle cx="467.15" cy="606.86" r="2.3"/><circle cx="468.06" cy="605.9" r="2.3"/><circle cx="467.42" cy="604.53" r="2.3"/><circle cx="467.25" cy="601.13" r="2.3"/><circle cx="467.08" cy="597.74" r="2.3"/><circle cx="466.91" cy="594.34" r="2.3"/><circle cx="466.11" cy="590.15" r="2.3"/><circle cx="464.62" cy="587.1" r="2.3"/><circle cx="459.33" cy="590.08" r="2.3"/><circle cx="458.36" cy="593.34" r="2.3"/><circle cx="457.21" cy="596.22" r="2.3"/><circle cx="456.02" cy="598.83" r="2.3"/><circle cx="456.34" cy="600.41" r="2.3"/><circle cx="453.06" cy="599.49" r="2.3"/></g>
<circle cx="477" cy="529.5" r="2.6" fill="#017153" fill-opacity="0.85"/>
<circle cx="473.8" cy="605.2" r="2.6" fill="#017153" fill-opacity="0.85"/>
<circle cx="525.6" cy="563.7" r="2.6" fill="#017153" fill-opacity="0.85"/>
<circle cx="533.5" cy="563.7" r="2.6" fill="#017153" fill-opacity="0.85"/>
<circle cx="533.5" cy="567.8" r="2.6" fill="#017153" fill-opacity="0.85"/>
</g>
<line x1="537.5" y1="544.75" x2="537.5" y2="555.65" stroke="#017153" stroke-width="4.7" stroke-linecap="round"/>
<path d="M455.82,569.19 C456.79,569.11 459.7,568.75 461.64,568.75 C463.58,568.75 464.55,568.82 467.46,569.19 C470.37,569.55 475.22,570.69 479.1,570.93 C482.98,571.17 486.86,571.25 490.75,570.64 C494.63,570.03 498.51,568.58 502.39,567.29 C506.27,566.01 510.15,564.63 514.03,562.93 C517.91,561.23 521.79,559.17 525.67,557.11 C529.55,555.05 535.37,551.65 537.31,550.56" fill="none" stroke="#545557" stroke-width="2.9" stroke-linecap="butt" stroke-linejoin="miter"/>
<rect x="451.6" y="521.9" width="89.8" height="89.4" fill="none" stroke="#8c8c8c" stroke-width="0.9"/>
<line x1="447.5" y1="529.4" x2="451.6" y2="529.4" stroke="#555" stroke-width="0.8"/>
<text x="444.2" y="532" font-size="7.5" text-anchor="end" font-weight="normal" fill="#1c1c1c" letter-spacing="0.25">0.2</text>
<line x1="447.5" y1="549.3" x2="451.6" y2="549.3" stroke="#555" stroke-width="0.8"/>
<text x="444.2" y="551.9" font-size="7.5" text-anchor="end" font-weight="normal" fill="#1c1c1c" letter-spacing="0.25">0.1</text>
<line x1="447.5" y1="569.2" x2="451.6" y2="569.2" stroke="#555" stroke-width="0.8"/>
<text x="444.2" y="571.8" font-size="7.5" text-anchor="end" font-weight="normal" fill="#1c1c1c" letter-spacing="0.25">0</text>
<line x1="447.5" y1="589.1" x2="451.6" y2="589.1" stroke="#555" stroke-width="0.8"/>
<text x="444.2" y="591.7" font-size="7.5" text-anchor="end" font-weight="normal" fill="#1c1c1c" letter-spacing="0.25">−0.1</text>
<line x1="447.5" y1="609" x2="451.6" y2="609" stroke="#555" stroke-width="0.8"/>
<text x="444.2" y="611.6" font-size="7.5" text-anchor="end" font-weight="normal" fill="#1c1c1c" letter-spacing="0.25">−0.2</text>
<line x1="455" y1="611.3" x2="455" y2="615.3" stroke="#555" stroke-width="0.8"/>
<text x="455.15" y="625.5" font-size="7.5" text-anchor="middle" font-weight="normal" fill="#1c1c1c" letter-spacing="0.3">0</text>
<line x1="479.63" y1="611.3" x2="479.63" y2="615.3" stroke="#555" stroke-width="0.8"/>
<text x="479.78" y="625.5" font-size="7.5" text-anchor="middle" font-weight="normal" fill="#1c1c1c" letter-spacing="0.3">20</text>
<line x1="504.27" y1="611.3" x2="504.27" y2="615.3" stroke="#555" stroke-width="0.8"/>
<text x="504.42" y="625.5" font-size="7.5" text-anchor="middle" font-weight="normal" fill="#1c1c1c" letter-spacing="0.3">40</text>
<line x1="528.9" y1="611.3" x2="528.9" y2="615.3" stroke="#555" stroke-width="0.8"/>
<text x="529.05" y="625.5" font-size="7.5" text-anchor="middle" font-weight="normal" fill="#1c1c1c" letter-spacing="0.3">60</text>
<text x="496.5" y="640" font-size="9.1" text-anchor="middle" font-weight="normal" fill="#1c1c1c">Nitrogen inputs (g cm<tspan dy="-4.2" font-size="6.2">−2</tspan><tspan dy="4.2">)</tspan></text>
<text x="423.6" y="566.6" font-size="8.6" text-anchor="middle" fill="#1c1c1c" transform="rotate(-90 423.6 566.6)">SHAP value</text>
<text x="416.8" y="517.3" font-size="12.5" text-anchor="start" font-weight="bold" fill="#000">s</text>
<line x1="593.9" y1="564.1" x2="593.9" y2="606" stroke="#017153" stroke-width="5.4" stroke-linecap="round"/>
<line x1="603.1" y1="562.3" x2="603.1" y2="611.6" stroke="#017153" stroke-width="5.4" stroke-linecap="round"/>
<line x1="629.2" y1="564.2" x2="629.2" y2="609.3" stroke="#017153" stroke-width="5.4" stroke-linecap="round"/>
<line x1="656" y1="568.4" x2="656" y2="609.6" stroke="#017153" stroke-width="5.4" stroke-linecap="round"/>
<line x1="668" y1="526.1" x2="668" y2="592.8" stroke="#017153" stroke-width="5.4" stroke-linecap="round"/>
<line x1="676.1" y1="531.6" x2="676.1" y2="599.4" stroke="#017153" stroke-width="5.4" stroke-linecap="round"/>
<circle cx="629.2" cy="562" r="2.6" fill="#017153" fill-opacity="0.85"/>
<path d="M594.4,587.2 C595.8,587.5 599.1,588.52 602.8,589 C606.5,589.48 612,589.97 616.6,590.1 C621.2,590.23 626.05,589.93 630.4,589.8 C634.75,589.67 639.12,589.73 642.7,589.3 C646.28,588.87 649.08,588.53 651.9,587.2 C654.72,585.87 657.05,583.3 659.6,581.3 C662.15,579.3 664.52,577.37 667.2,575.2 C669.88,573.03 674.28,569.45 675.7,568.3" fill="none" stroke="#545557" stroke-width="2.9" stroke-linecap="butt" stroke-linejoin="miter"/>
<rect x="589.6" y="521.9" width="90.7" height="94.6" fill="none" stroke="#8c8c8c" stroke-width="0.9"/>
<line x1="585.5" y1="531.2" x2="589.6" y2="531.2" stroke="#555" stroke-width="0.8"/>
<text x="582.2" y="533.8" font-size="7.5" text-anchor="end" font-weight="normal" fill="#1c1c1c" letter-spacing="0.25">0.2</text>
<line x1="585.5" y1="557.13" x2="589.6" y2="557.13" stroke="#555" stroke-width="0.8"/>
<text x="582.2" y="559.73" font-size="7.5" text-anchor="end" font-weight="normal" fill="#1c1c1c" letter-spacing="0.25">0.1</text>
<line x1="585.5" y1="583.07" x2="589.6" y2="583.07" stroke="#555" stroke-width="0.8"/>
<text x="582.2" y="585.67" font-size="7.5" text-anchor="end" font-weight="normal" fill="#1c1c1c" letter-spacing="0.25">0</text>
<line x1="585.5" y1="609" x2="589.6" y2="609" stroke="#555" stroke-width="0.8"/>
<text x="582.2" y="611.6" font-size="7.5" text-anchor="end" font-weight="normal" fill="#1c1c1c" letter-spacing="0.25">−0.1</text>
<line x1="609.5" y1="616.5" x2="609.5" y2="620.5" stroke="#555" stroke-width="0.8"/>
<text x="609.65" y="630.3" font-size="7.5" text-anchor="middle" font-weight="normal" fill="#1c1c1c" letter-spacing="0.3">0.4</text>
<line x1="632.87" y1="616.5" x2="632.87" y2="620.5" stroke="#555" stroke-width="0.8"/>
<text x="633.02" y="630.3" font-size="7.5" text-anchor="middle" font-weight="normal" fill="#1c1c1c" letter-spacing="0.3">0.6</text>
<line x1="656.23" y1="616.5" x2="656.23" y2="620.5" stroke="#555" stroke-width="0.8"/>
<text x="656.38" y="630.3" font-size="7.5" text-anchor="middle" font-weight="normal" fill="#1c1c1c" letter-spacing="0.3">0.8</text>
<line x1="679.6" y1="616.5" x2="679.6" y2="620.5" stroke="#555" stroke-width="0.8"/>
<text x="679.75" y="630.3" font-size="7.5" text-anchor="middle" font-weight="normal" fill="#1c1c1c" letter-spacing="0.3">1.0</text>
<text x="634.95" y="643.4" font-size="9.1" text-anchor="middle" font-weight="normal" fill="#1c1c1c">Initial residue fraction</text>
<text x="561.8" y="569.2" font-size="8.6" text-anchor="middle" fill="#1c1c1c" transform="rotate(-90 561.8 569.2)">SHAP value</text>
<text x="554.8" y="517.3" font-size="12.5" text-anchor="start" font-weight="bold" fill="#000">t</text>
</svg></body></html>
